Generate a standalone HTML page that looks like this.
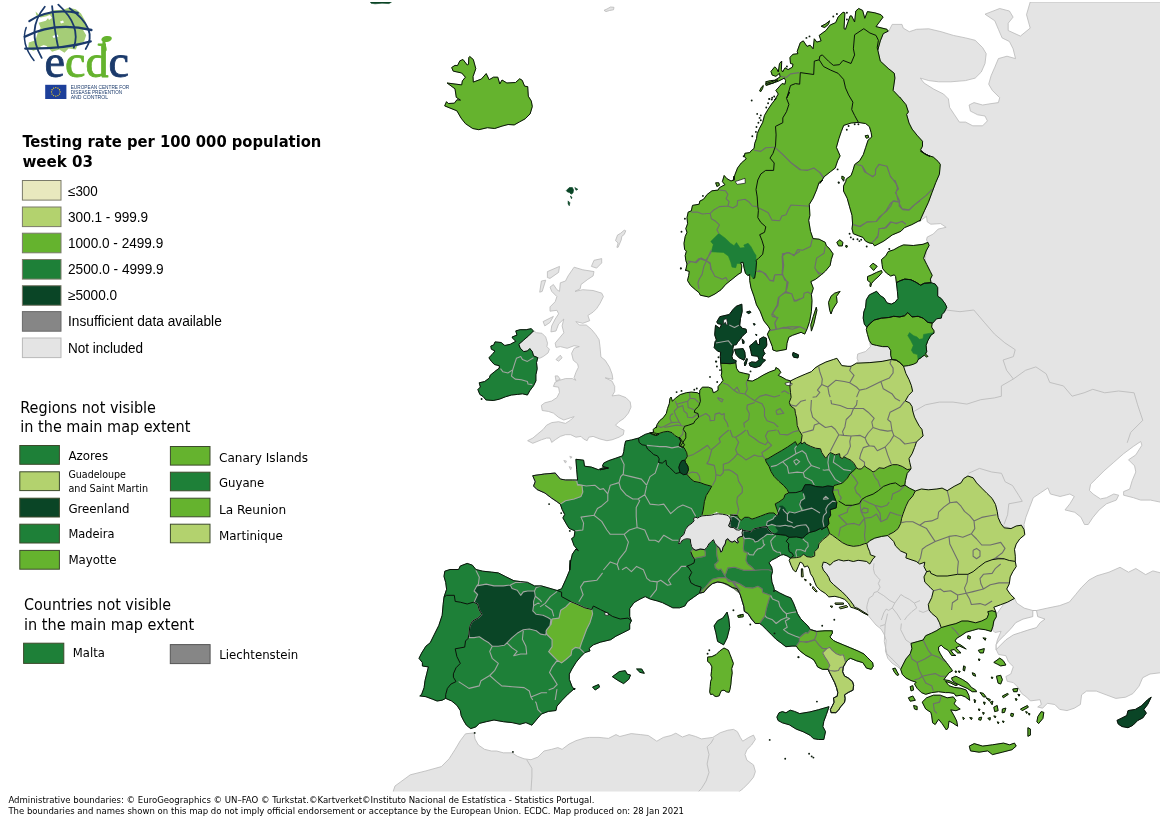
<!DOCTYPE html>
<html lang="en"><head><meta charset="utf-8"><title>Testing rate per 100 000 population, week 03</title>
<style>
html,body{margin:0;padding:0;background:#fff}
body{width:1160px;height:819px;position:relative;overflow:hidden;font-family:"Liberation Sans",sans-serif}
svg text{font-family:"DejaVu Sans Condensed","DejaVu Sans","Liberation Sans",sans-serif}
svg text.a{font-family:"Liberation Sans",sans-serif}
</style></head><body>
<svg width="1160" height="819" viewBox="0 0 1160 819" style="position:absolute;left:0;top:0">
<defs><clipPath id="mapclip"><rect x="366" y="2" width="794" height="789.5"/></clipPath></defs>
<g clip-path="url(#mapclip)" stroke-linejoin="round">
<path fill="#e4e4e4" stroke="#b9b9b9" stroke-width="0.8" d="M869.3,340.5 870.5,346.6 865.6,351.5 857.7,354 857.1,358.2 858.3,361.3 855.9,363.7 870.5,362.5 882.7,361.3 891.9,359.5 890.7,355.2 890.7,350.3 888.2,346.6 882.7,346.6 876.6,345.4 871.7,344.2Z M393.3,791 395,786 410.3,774.8 425.9,770.9 441.4,766.6 449.1,758.8 455.2,749.3 460.3,740.7 465.5,733.8 474.1,732.9 475,739 478.4,745 484.5,749.3 491.4,751 496.6,751 503.4,752.8 512.1,752.8 517.2,756.2 524.1,758.8 531,759.7 537.9,757.1 544,751 551.7,749.3 557.8,747.6 562.1,749.3 569,744.1 575.9,740.7 584.5,738.1 589.5,737.4 599,737.4 608.4,738.4 616,734.6 619.8,736.5 631.2,733.6 640.7,734.6 648.3,735.5 656.8,741.2 663.4,737.4 671,735.5 675.8,733.2 682.4,737 689.1,734.6 695.7,736.5 701.4,738.9 712.8,737.4 720.3,732.7 727.9,730.2 733.6,729.4 737.4,731.7 740.3,737.4 742.7,741.2 748.8,737.4 753.5,735.1 755.4,739.3 751.6,745 746.9,749.7 745,754.5 746.9,760.2 753.5,764.9 755.4,771.6 753.5,777.2 748.8,782.9 743.1,788.6 739.3,791.5 735.5,796.2 393.4,796.2Z M533.5,330.9 536.5,332.7 542,333.3 545.7,337 547.5,343.1 546.9,346.7 549.4,349.2 548.1,352.9 543.3,356.5 539.6,358.3 537.8,357.7 533.5,355.9 532.3,351.6 529.8,348.6 527.4,351 523.7,351.6 520.1,348 518.8,344.3 523.7,340 528.6,335.8Z M574.1,267.2 582.8,269.8 594,271.6 593.1,275.9 587.9,279.3 581,284.5 580.2,288.8 575,291.4 582.8,289.7 593.1,290.5 601.7,293.1 603.4,296.6 600,303.4 596.6,308.6 593.1,312.1 587.9,315.5 589.7,320.7 582.8,323.3 575.9,321.6 579.3,325 586.2,325 591.4,329.3 595.7,334.5 599.1,339.7 600,346.6 600.9,356.9 605.2,360.3 609.5,367.2 612.1,374.1 612.9,379.3 605.2,377.8 612.1,381.2 614.7,386.4 614.7,391.6 612.1,395.9 619,395 625.9,397.6 630.2,401.9 631,407.1 628.4,413.1 624.1,418.3 619,421.7 615.5,425.2 620.7,428.6 624.1,430.3 623.3,434.7 619,437.2 612.1,439.8 606.9,440.7 600,439 593.1,436.4 588.8,437.2 587.1,440.7 583.6,439 581,436.4 575.9,437.2 570.7,434.7 565.5,434.7 560.3,436.4 555.2,439.8 551.7,442.4 550,438.1 546.6,438.1 541.4,439.8 532.8,443.3 527.6,440.7 532.8,438.1 537.9,433.8 543.1,429.5 546.6,425.2 551.7,422.6 558.6,421.7 565.5,423.4 570.7,420 574.1,416.6 569,418.3 563.8,420 558.6,417.4 553.4,413.1 548.3,411.4 542.2,410.5 541.4,405.3 544.8,402.8 551.7,401 556.9,397.6 559.5,392.4 558.6,387.2 553.4,386.4 555.2,382.1 559.5,380.3 565.5,378.6 572.4,378.6 575.9,380.3 574.1,377.6 575.9,372.4 578.4,367.2 577.6,363.8 573.3,360.3 571.6,353.4 574.1,348.3 579.3,346.6 574.1,345.7 567.2,348.3 560.3,346.6 556,347.4 555.2,343.1 559.5,337.9 563.8,332.8 562.1,325.9 563.8,319 558.6,324.1 556,331 550.9,331.9 551.7,325.9 555.2,319 558.6,313.8 556.9,310.3 550,311.2 550,306.9 555.2,301.7 556.9,296.6 551.7,291.4 550,287.1 553.4,284.5 556.9,289.7 559.5,291.4 560.3,282.8 565.5,281 568.1,275.9Z M547.4,271.6 559.5,266.4 558.6,272.4 550,278.4 547.4,277.6Z M541.4,281 545.7,280.2 542.2,291.4 539.7,292.2Z M591.4,266.4 594,260.3 601.7,258.6 601.7,262.9 596.6,268.1Z M543.1,321.6 553.4,316.4 550,322.4 544.8,325.9Z M556,359.5 560.3,355.2 562.1,357.8 558.6,361.2Z M555.2,375.9 557.8,375.9 560.3,379.3 556,381Z M563.8,460.5 566.4,461 565.5,463.1Z M569.8,456.2 572.1,457.1 570.7,458.3Z M569,466.6 571.6,467.4 570.7,469.7Z M1014.5,598.3 1016.9,603.2 1024.2,608.1 1032.8,610.5 1036.5,610.5 1047.4,608.1 1059.7,605.6 1069.4,602 1075.5,594.7 1081.6,587.3 1089,580 1096.8,575.8 1109,572.2 1120,567.3 1128.5,572.2 1135.8,568.5 1145.6,574.6 1152.9,570.9 1162.7,573.4 1170,573 1170,673 1160,672.8 1150,674 1142.7,677.7 1139,686.2 1132.9,693.6 1125.6,697.2 1115.8,698.4 1106.1,694.8 1096.3,691.1 1086.5,691.1 1081.6,694.8 1080.4,704.5 1074.3,708.2 1067,710.6 1059.7,709.4 1054.8,704.5 1047.4,703.3 1042.6,708.2 1037.7,707 1041.3,704.5 1040.1,699.7 1030.4,700.9 1026.7,697.2 1021.8,693.6 1018.1,687.4 1013.3,682.6 1007.2,681.3 1005.9,676.5 1010.8,674 1013.3,666.7 1008.4,661.8 1005.9,655.7 998.6,654.5 996.2,649.6 996.2,644.7 997.4,639.8 1001.1,631.3 994.9,632.5 992.5,630.1 994.9,616.6 1003.5,604.4Z M888.5,31.7 892.2,24.4 902,24.4 903.2,28.1 909.3,31.7 916.6,29.3 928.8,28.8 941.1,31.7 953.3,35.4 965.5,37.9 975.2,40.3 982.6,47.6 986.2,53.7 985,63.5 981.3,72 975.2,78.1 965.5,80.6 950.8,81.8 938.6,81.8 928.8,80.6 920.3,78.1 924,83 933.7,89.1 943.5,94 948.4,98.9 949.6,107.4 954.5,114.8 959.4,122.1 965.5,122.1 972.8,125.8 982.6,125.8 987.4,120.9 985,116 977.7,114.8 970.4,111.1 969.1,105 974,102.6 982.6,105 989.9,103.8 998.4,102.6 999.7,97.7 992.3,90.4 988.7,84.2 991.1,75.7 994.8,67.2 998.4,58.6 1007,56.2 1015.5,58.6 1013.1,48.8 1009.4,41.5 1002.1,37.9 998.4,29.3 994.8,20.8 985,14.2 999.7,8.5 1009.4,11 1013.1,17.1 1008.2,23.2 1008.2,30.5 1020.4,36.1 1030.2,28.1 1026.5,14.7 1030.2,2 1170,2 1170,503 1162.7,502.6 1150.5,500.1 1140.7,500.1 1133.4,497.7 1123.6,495.2 1123.6,491.6 1129.7,489.1 1132.2,480.6 1135.8,472 1134.6,465.9 1128.5,459.8 1135.8,454.9 1141.9,445.2 1140.7,441.5 1133.4,446.4 1123.6,453.7 1113.8,462.3 1104.1,470.8 1096.8,478.1 1090.6,484.2 1089.4,490.4 1093.1,494 1100.4,498.9 1106.5,497.7 1113.8,494 1118.7,495.2 1116.3,500.1 1106.5,503.8 1099.2,509.9 1093.1,517.2 1088.2,524.5 1084.5,524.5 1080.9,517.2 1074.8,512.3 1065,509.9 1069.9,503.8 1074.3,496.5 1069.9,494 1060.1,496.5 1050.4,494 1047.9,487.9 1040.6,492.8 1033.3,497.7 1029.6,507.4 1025.9,517.2 1024,524.5 1024.7,533.1 1000,525 960,520 905,490 900,470 895,440 905,410 900,380 905,350 915,320 920,290 925,260 927.9,242.4 926.5,240 927.2,237.1 933.3,234 938.1,229.1 946.1,227.3 940.6,223.6 930.8,224.2 927.2,221.8 926.5,216.3 919.8,221.2 912,205 912,170 895,130 885,100 878,80 870,60 872,40 880,33Z M867.9,615.2 871,619 876,625 881,629 884,634 886,640 885.4,651 887.8,658.3 892.1,663.2 897,666.3 900.7,669.3 915,660 935,635 945,615 935,590 930,562 905,545 880,532 858,552 835,548 815,565 830,585 845,598 858,608Z M624.2,230.2 625.8,230.8 624.2,234.5 621.8,236.3 621.2,240 618.1,247.3 616.9,247.3 618.1,243 615.5,240.6 617.5,235.1 620.6,233.3Z M604,10.3 607,9 610.5,7 614,7.3 613.5,9.8 609.5,10.5 606,11.6Z"/>
<path fill="#fff" stroke="#b4b4b4" stroke-width="0.8" d="M1032.8,610.5 1036.5,610.5 1037.7,616.6 1045,619.1 1040.1,622.7 1036.5,627.6 1027.9,630.1 1020.6,632.5 1013.3,634.9 1005.9,639.8 999.8,645.9 996.2,649.6 996.2,644.7 998.6,641.1 1004.7,634.9 1010.8,628.8 1015.7,622.7 1023,619.1 1032.8,616.6Z"/>
<path fill="none" stroke="#bcbcbc" stroke-width="0.9" d="M946.2,310 960,311.7 973.8,310 984.1,322.1 994.5,334.1 1004.8,342.8 1015.2,349.7 1013.4,356.6 1003.1,360 1006.6,370.3 1013.4,379 M1013.4,379 1025.5,370.3 1035.9,366.9 1046.2,373.8 1049.7,382.4 1063.4,385.9 1072.1,396.2 1084.1,392.8 1092.8,389.3 1104.8,392.8 1118.6,391 1134.1,392.8 1137.6,404.8 1142.8,420.3 1130.7,432.4 1127.2,442.8 M913.4,411.7 925.5,404.8 939.3,402.1 953.1,402.1 966.9,404.1 980.7,399.7 994.5,397.9 1001.4,396.2 1001.4,385.9 1013.4,379 M968.5,473.3 979.5,468.4 991.7,472 1001.5,473.3 1005.2,481.8 1012.5,485.5 1018.6,495.2 1022.3,501.3 1008.8,503.8 1007.6,514.8 1004,524.5 M874,563.3 873.4,568.8 874.6,573.7 877.7,577.4 880.1,579.8 878.3,583.5 880.1,587.2 877.7,591.4 874,592.6 872.8,595.7 869.1,598.1 867.3,604.2 866.7,607.9 867.9,612.8 M877.7,592 883.8,595.7 889.9,600.6 894.8,603 898.4,598.1 900.9,594.5 904.5,596.9 909.4,599.4 914.3,603 916.8,607.9 911.9,611.6 907,616.5 904.5,620 M894.8,603 892.3,607.9 888.7,610.4 886.2,609.1 883.8,612.8 881.3,620 M892.3,607.9 897.2,614 900.9,620 M914.3,603 920,600.6 M918.8,610.8 923.1,612.4 929.1,610 M901.4,623.5 900.7,629.7 905.9,640 911,643.4 M880,626.2 885.2,624.5 887.5,613.7 M885.2,624.5 884.3,641.7 886.9,653.8 892.1,659 899,665.9 900.7,669.3 M713.7,738.4 710.9,743.1 707.1,746.9 709,754.5 707.1,764 709,772.5 706.1,781 701.4,788.6 698.5,791.5 M526.7,759.7 531.9,768.3 531.9,776.9 531,790.7"/>
<path fill="#1e8038" stroke="#1e8038" stroke-width="0.6" d="M649.8,433 645.2,434.4 638.5,438.1 638.5,438.1 631.7,439.9 625.6,441.1 624.4,446.6 623.8,451.5 622.6,455.8 615.9,458.2 608.5,460.7 603.7,463.1 602.4,466.2 608.5,468 600,469.8 608.3,468.1 603.4,467.6 598.3,469.7 591.4,467.1 584.5,466.2 583.6,460.2 575.9,459.3 576.7,469.7 577.6,480 572.4,480 565.5,480 560.3,479.1 555.2,473.1 544.8,474 532.8,475.7 535.3,481.7 533.6,486 537.1,489.5 544.8,492.9 551.7,498.1 556.9,501.6 560.3,504.1 562.1,509.3 564.7,514.5 562.9,517.9 566.4,524 569,528.3 575,530.9 574.1,536.9 571.6,538.6 574.1,545.5 578.4,550.7 575.9,549 572.4,554.1 570.7,561 569.8,570 570.2,560.3 569.8,570 565.9,579.3 561.6,588.8 557.2,590.5 557.2,590.5 561.6,592.2 561.6,596.6 571,601.7 577.1,604.3 584.8,607.8 591.7,609.5 593.4,606 600.3,609.5 607.2,612.9 612.4,616.4 620.2,619 627.9,618.1 631.4,620.7 631.4,620.7 629.7,616.4 629.7,608.6 634,602.6 640,599.1 645.2,596.6 650.3,599.1 657.2,600.9 662.4,602.6 667.6,605.2 672.8,607.8 679.7,607.8 684.8,606 687.4,601.7 693.4,597.4 699.5,593.1 699.5,593.1 701.2,587.1 695.2,585.3 690.9,582.8 689.1,577.6 691.7,572.4 688.3,567.2 686.6,566.4 690.7,564.7 694.1,562.9 694.6,559.5 692.4,556 690.7,551.7 697,545 690,530 700,520 702,514.9 703.2,510 704.4,501.6 706.2,495.5 709.3,490.6 711.7,486.3 705,484.5 700.1,482.6 694,481.4 690.4,478.4 686.7,474.1 686.7,474.1 688.5,469.8 687.9,466.2 685.5,462.5 684.9,460.1 684.9,460.1 685.5,459.5 687.3,456.4 686.7,452.7 684.2,447.9 681.2,446.6 681.2,446.6 679.4,445.4 681,441.6 679.1,438 674.8,435.5 672,432.6 667.8,431.4 663.5,432 659.8,433.2 655.6,435 649.8,433Z M557.2,590.5 550,588.4 541.4,585.9 534.5,585.9 527.6,582.4 520.7,581.6 513.8,580.7 505.2,576.4 498.3,572.9 491.4,572.1 482.8,571.2 475.9,569.5 472.4,565.2 467.2,563.4 460.3,566 458.6,569.5 450,569.5 444.8,571.2 444,576.4 445.7,582.4 446.6,589.3 444,597.1 443.1,604.8 442.2,615.2 438.8,625.5 434.5,634.1 430.2,642.8 425.9,646.2 421.6,653.1 419,658.3 422.4,662.6 422.4,666 428.4,666.9 426.7,673.8 425,680.7 424.1,687.6 421.6,694.5 419.8,695.9 425.9,696.7 432.8,699.3 437.1,701 442.2,700.2 445.7,698.4 451.7,701 456.9,705.3 460.3,710.5 461.2,715.7 463.8,720.9 466.4,725.2 470.7,728.6 475.9,726.9 479.3,723.4 486.2,721.7 494,720 503.4,721.7 512.1,722.6 519.8,724.3 525.9,722.6 531.9,725.2 536.2,720 541.4,714 548.3,711.4 556,710.5 556.9,706.2 562.1,700.2 568.1,694.1 575,688.1 574.5,690 571.9,686.2 569.3,679.3 569.3,674.1 571.9,669 576.2,662.1 580.5,656.9 584.8,652.6 590,650.9 589.1,648.3 593.4,644.8 600.3,642.2 610.7,639.7 615.9,636.2 622.8,632.8 629.7,629.3 629.7,624.1 631.4,620.7 631.4,620.7 627.9,618.1 620.2,619 612.4,616.4 607.2,612.9 600.3,609.5 593.4,606 591.7,609.5 584.8,607.8 577.1,604.3 571,601.7 561.6,596.6 561.6,592.2 557.2,590.5Z M699.5,593.1 703.8,592.2 708.1,587.1 712.4,583.6 717.6,581.9 722.8,582.8 727.3,584.4 732.2,587.5 737.1,588.7 740.1,594.2 742,600.3 743.8,606.4 744.4,611.3 748.1,613.7 751.7,619.2 755.4,623.5 759.7,623.5 762.1,625.3 766.4,629.6 771.3,634.5 776.2,639.4 781.1,643 785.9,646.7 792,646.1 796.3,646.1 799.4,650.4 805.5,655.2 810.4,657.7 814,660 814,660.1 816.4,664.4 817.6,666.9 822.5,669.3 828,669.3 829.8,673 832.3,677.9 834.7,682.7 836.5,687.6 837.8,692.5 837.2,696.2 833.5,698 834.1,702.3 832.3,705.9 830.4,709.6 831.1,712.6 835.9,712.6 838.4,710.2 840.8,706.5 844.5,702.3 845.1,698.6 844.5,694.9 848.1,692.5 853,690.1 853.6,685.2 852.4,681.5 848.1,677.9 844.5,676 842.6,671.7 843.3,666.9 845.7,662.6 848.1,659.5 850.6,658.3 856.7,660.8 862.8,662.6 866.5,668.1 871.3,669.3 873.2,666.3 872.6,662.6 867.7,657.7 864,654 857.9,651 850.6,647.9 843.3,644.9 835.9,641.8 833.6,640.6 829.9,636.9 832.3,633.3 832.3,630.8 825,630.8 816.5,631.4 810.4,629.6 807.9,625.9 804.2,622.3 800.6,618.6 797.5,613.7 795.7,608.8 793.3,602.7 790.8,597.9 785.9,596 779.8,593 774.3,589.9 773.7,586.9 771.9,582 771.3,575.9 772.5,571.6 772.4,570.5 771.6,567.1 769,562.8 771.6,560.2 776.7,557.6 781,555 783.6,554.6 787.1,555.9 790.5,558 793.5,555.9 792.2,553.3 789.2,551.6 788.4,547.2 788.8,543.8 786.2,541.2 789.2,537.3 789.2,537.3 785.3,535.2 780.2,534.7 774.1,533.9 771.6,532.6 768.1,529.1 767.2,526.6 762.9,527 758.6,527.8 753.4,529.1 750.9,531.7 746.6,530.9 743.1,530.4 735,535 720,538 705,540 695,548 690.7,551.7 692.4,556 694.6,559.5 694.1,562.9 690.7,564.7 686.6,566.4 688.3,567.2 691.7,572.4 689.1,577.6 690.9,582.8 695.2,585.3 701.2,587.1 699.5,593.1Z M789.2,537.3 796.6,536.9 802.6,538.2 805.6,535.2 809.1,532.6 815.5,530.9 820.7,528.3 821.6,529.6 827.1,526.4 828.9,531.1 829.5,533.5 827.7,535.9 822.8,539.6 819,543.8 818.1,548.1 814.7,551.6 814.7,555.9 811.2,557.2 806.9,556.7 803.4,554.1 800.9,556.7 796.6,557.6 790.5,558 793.5,555.9 792.2,553.3 789.2,551.6 788.4,547.2 788.8,543.8 786.2,541.2 789.2,537.3Z M788.7,492.9 785,494.7 783.8,498.4 778.9,502 775.2,503.9 776.5,508.1 777.7,511.2 778.9,514.2 776.5,515.5 774,513 769.1,513 765.5,514.2 760.6,516.1 755.7,517.9 752,519.1 748.4,517.3 744.7,517.3 741.1,520.4 738.6,517.9 737.4,515.5 733.7,515.5 730.1,514.9 730.2,516.2 731,522.2 730.2,525.7 733.6,527.8 737.9,528.7 743.1,530.4 746.6,530.9 750.9,531.7 753.4,529.1 758.6,527.8 762.9,527 767.2,526.6 768.1,529.1 771.6,532.6 774.1,533.9 780.2,534.7 785.3,535.2 789.2,537.3 796.6,536.9 802.6,538.2 805.6,535.2 809.1,532.6 815.5,530.9 820.7,528.3 821.6,529.6 827.1,526.4 828.9,523.7 828.3,518.8 830.7,515.2 830.1,509.7 836.2,507.9 836.8,502.4 836.2,501.7 834.4,496.9 832.6,492 833.3,487.3 832.6,486.5 827.7,485.9 822.8,487.1 815.5,486.5 810.6,484.7 805.1,484.7 802,490.8 795.9,492.6 788.7,492.8Z M801,442.1 797.2,445.3 795.4,441.6 792.9,443.4 787.4,447.1 781.3,450.8 774,455 767.9,458.7 765.5,459.3 766.1,461.7 769.1,466.6 771,471.5 774,476.4 778.9,481.3 783.8,485.6 787.4,489.8 788.7,492.9 795.9,492.6 802,490.8 805.1,484.7 810.6,484.7 815.5,486.5 822.8,487.1 827.7,485.9 832.6,486.5 833.3,487.3 834,485.5 838.8,484.2 842.5,483 847.4,478.1 849.8,473.9 852.3,472 856.5,467.8 854.1,463.5 851.1,460.4 847.4,458.6 843.7,456.8 842.5,458.6 840.1,457.4 839.5,453.7 835.2,454.9 830.3,452.5 829.1,453.7 826.6,457.4 825.4,458 821.7,452.5 820.5,448.8 815.6,448.2 810.8,446.4 805.9,444 804.7,442.1 801.6,444 801,442.1Z"/>
<path fill="#65b32e" stroke="#65b32e" stroke-width="0.6" d="M532.8,475.7 544.8,474 555.2,473.1 560.3,479.1 565.5,480 572.4,480 576.7,480.9 577.6,485.2 581.9,485.2 582.8,492.1 581,496.4 574.1,499 565.5,500.7 560.3,504.1 556.9,501.6 551.7,498.1 544.8,492.9 537.1,489.5 533.6,486 535.3,481.7Z M571,601.7 577.1,604.3 584.8,607.8 591.7,609.5 592.6,613.8 590,622.4 586.6,629.3 584,636.2 581.4,643.1 579.7,648.3 575.3,647.4 571.9,650 571,655.2 565.9,659.5 561.6,662.9 557.2,660.3 552.9,656 548.6,651.7 552.1,646.6 552.1,639.7 546.9,634.5 546,631 551.2,624.1 552.1,619 559,618.1 560.7,610.3 565.9,606.9Z M690.7,551.7 693.3,549.1 695.9,550.4 700.2,549.1 704.5,549.6 705.3,552.6 705.3,556 701.9,556.9 696.7,557.8 694.1,558.6 692.4,556Z M717,546.1 719.6,548.3 720.9,552.2 722.2,550.9 723,547.4 725.2,544 726,540.1 727.8,538.8 729.5,540.9 732.1,542.2 734.7,540.9 737.2,543.1 738.5,542.2 737.2,539.7 738.1,537.9 740.7,536.6 742.8,536.2 742.8,536.2 744.1,539.7 743.7,544 743.3,548.3 744.1,551.7 747.6,552.6 746.7,556 745.9,560.3 747.6,563.8 751.9,567.2 754.5,570 744.4,570.4 734.7,567.3 727.9,567.9 724.9,575.9 721,569 718.3,570 715.3,567.7 714.8,564.2 716.6,562.9 718.3,560.8 717,556 716.6,551.7 717,546.1Z M699.5,593.1 705.5,587.1 709.8,581.9 712.4,579.3 719.3,577.6 725.3,577.6 729.7,580.2 734.8,583.6 740,590.5 738.3,592.2 733.1,587.9 727.9,585.3 722.8,582.8 717.6,581.9 712.4,583.6 708.1,587.1 703.8,592.2Z M733.4,582 739.5,583.8 745.6,587.5 753,588.1 757.9,586.3 762.1,588.7 762.7,592.4 767.6,594.2 770.7,595.4 768.8,600.3 767,606.4 765.8,611.3 765.2,615.6 762.1,619.8 759.7,623.5 755.4,623.5 751.7,619.2 748.1,613.7 744.4,611.3 743.8,606.4 742,600.3 740.1,594.2 737.1,588.7 733.4,583.2Z M796.3,646.1 799.4,641.8 799.4,637.5 803,634.5 805.5,632.6 807.9,633.3 810.4,629.6 816.5,631.4 825,630.8 832.3,630.8 832.3,633.3 829.9,636.9 833.6,640.6 835.9,641.8 843.3,644.9 850.6,647.9 857.9,651 864,654 867.7,657.7 872.6,662.6 873.2,666.3 871.3,669.3 866.5,668.1 862.8,662.6 856.7,660.8 850.6,658.3 848.1,659.5 845.7,662.6 843.3,666.9 842.6,671.7 844.5,676 848.1,677.9 852.4,681.5 853.6,685.2 853,690.1 848.1,692.5 844.5,694.9 845.1,698.6 844.5,702.3 840.8,706.5 838.4,710.2 835.9,712.6 831.1,712.6 830.4,709.6 832.3,705.9 834.1,702.3 833.5,698 837.2,696.2 837.8,692.5 836.5,687.6 834.7,682.7 832.3,677.9 829.8,673 828,669.3 822.5,669.3 817.6,666.9 816.4,664.4 814,660.1 814,660 810.4,657.7 805.5,655.2 799.4,650.4 796.3,646.1Z M720.7,363.2 721.2,367.1 721.8,372 721.2,375.6 723,380.5 720.6,383.6 718.1,386.6 718.1,390.3 715.1,392.1 713.3,392.7 712,388.5 708.4,387.2 702.3,387.2 699.8,390.3 699.6,394.2 697.4,392.7 691.3,392.1 686.4,392.7 680.3,394.6 675.4,398.2 672.4,401.3 671.1,397 669.9,398.8 669.3,403.7 667.5,408.6 666.3,413.5 663.2,417.8 659.5,420.8 657.1,424.5 655.9,428.1 656.8,426.5 653.1,429.5 653.7,432 649.8,433 655.6,435 659.8,433.2 663.5,432 667.8,431.4 672,432.6 674.8,435.5 679.1,438 681,441.6 679.4,445.4 681.2,446.6 684.2,447.9 686.7,452.7 687.3,456.4 685.5,459.5 684.9,460.1 685.5,462.5 687.9,466.2 688.5,469.8 686.7,474.1 690.4,478.4 694,481.4 700.1,482.6 705,484.5 711.7,486.3 709.3,490.6 706.2,495.5 704.4,501.6 703.2,510 702,514.9 706.9,514.9 711.7,514.2 716.6,511.8 720.3,513.6 726.4,514.2 730.1,514.9 733.7,515.5 737.4,515.5 738.6,517.9 741.1,520.4 744.7,517.3 748.4,517.3 752,519.1 755.7,517.9 760.6,516.1 765.5,514.2 769.1,513 774,513 776.5,515.5 778.9,514.2 777.7,511.2 776.5,508.1 775.2,503.9 778.9,502 783.8,498.4 785,494.7 788.7,492.9 787.4,489.8 783.8,485.6 778.9,481.3 774,476.4 771,471.5 769.1,466.6 766.1,461.7 765.5,459.3 767.9,458.7 774,455 781.3,450.8 787.4,447.1 792.9,443.4 795.4,441.6 797.2,445.3 801,442.1 801.6,439.1 802.1,435.2 799.1,430.4 797.2,425.5 796.6,418.1 795.4,413.3 794.8,409 790.5,405.9 789.3,402.3 791.1,397.4 790.5,392.5 789.9,386.4 790.5,380.9 786.3,379.7 782,377.2 778.3,375.4 780.8,372.4 778.9,369.3 775.9,367.5 775.3,369.9 772.2,371.1 769.4,372 763.3,375 757.2,378.7 752.3,381.1 747.4,380.5 748.7,378.1 749.3,374.4 743.8,373.2 738.9,372 736.5,368.3 735.8,362.8 731,359 724,359.5Z M856.5,467.8 858.4,469 861.4,469 864.5,465.9 866.9,467.8 870,469.6 873,472 875.5,470.8 879.1,467.8 884,468.4 887.7,466.5 892.6,464.7 897.4,464.7 902.3,466.5 907.2,469.6 910.9,469 907.2,473.3 905.4,480.6 904.8,485.1 909.3,488.1 915.3,491 912.8,495.9 908.4,501 905.9,506.2 903.3,513.1 901.6,518.3 900.7,523.4 898.1,528.6 893.8,532.1 888.6,534.7 887.8,535.5 881.7,536.4 874.8,538.1 869.7,540.7 867.1,543.3 864.2,543.8 859.4,545.6 853.3,546.3 847.2,545 842.3,542.6 837.4,538.9 832.5,535.3 829.5,533.4 828.9,531.1 827.1,526.4 828.9,523.7 828.3,518.8 830.7,515.2 830.1,509.7 836.2,507.9 836.8,502.4 836.2,501.7 834.4,496.9 832.6,492 833.3,487.3 834,485.5 838.8,484.2 842.5,483 847.4,478.1 849.8,473.9 852.3,472 856.5,467.8Z"/>
<path fill="#b3d26e" stroke="#b3d26e" stroke-width="0.6" d="M822.5,652.8 826.8,648.5 829.8,647.3 832.3,650.4 835.9,653.4 840.2,655.3 843.3,654.7 844.5,658.3 845.7,662.6 843.3,666.9 842.6,671.7 844.5,676 848.1,677.9 852.4,681.5 853.6,685.2 853,690.1 848.1,692.5 844.5,694.9 845.1,698.6 844.5,702.3 840.8,706.5 838.4,710.2 835.9,712.6 831.1,712.6 830.4,709.6 832.3,705.9 834.1,702.3 833.5,698 837.2,696.2 837.8,692.5 836.5,687.6 834.7,682.7 832.3,677.9 829.8,673 828,669.3 829.8,665.6 827.4,660.8 824.9,657.1Z M790.5,380.9 796.6,377.9 805.2,374.2 811.3,371.7 814.9,368.1 818.6,365.6 825.9,362 833.3,359.5 836.9,358.3 839.4,362 841.8,365.6 847.9,366.3 851,366.3 856.5,363.2 869.9,362.6 882.1,361.4 891.3,359.5 896.2,360.1 899.8,362.5 903.5,366.2 905.9,373.5 909,379.6 911.4,385.7 912.6,391.2 908.4,395.5 905.3,401 909.6,402.8 912,406.5 912.6,410 912.7,411 914.5,417.1 917,422 919.4,426.3 921.9,429.3 923.1,436 919.4,439.1 916.4,442.1 914.5,447.6 912.1,453.7 909,458.6 909.7,462.3 910.9,467.2 910.9,469 907.2,469.6 902.3,466.5 897.4,464.7 892.6,464.7 887.7,466.5 884,468.4 879.1,467.8 875.5,470.8 873,472 870,469.6 866.9,467.8 864.5,465.9 861.4,469 858.4,469 856.5,467.8 854.1,463.5 851.1,460.4 847.4,458.6 843.7,456.8 842.5,458.6 840.1,457.4 839.5,453.7 835.2,454.9 830.3,452.5 829.1,453.7 826.6,457.4 825.4,458 821.7,452.5 820.5,448.8 815.6,448.2 810.8,446.4 805.9,444 804.7,442.1 801.6,444 801,442.1 801.6,439.1 802.1,435.2 799.1,430.4 797.2,425.5 796.6,418.1 795.4,413.3 794.8,409 790.5,405.9 789.3,402.3 791.1,397.4 790.5,392.5 789.9,386.4 790.5,380.9Z M790.5,558 795.9,557.2 800.8,556.6 803.8,554.8 806.3,556.6 809.9,557.2 813.6,556.6 814.8,551.7 817.2,549.3 819.7,547.5 819.1,543.2 822.7,539.5 826.4,536.5 829.5,533.4 832.5,535.3 837.4,538.9 842.3,542.6 847.2,545 853.3,546.3 859.4,545.6 864.2,543.8 866.7,543.2 867.9,547.5 869.7,551.7 870.4,554.8 875.2,556.6 872.8,559.1 871,562.1 869.7,564 866.7,561.5 863,560.9 858.1,560.3 853.3,561.5 848.4,560.3 843.5,560.9 838.6,559.7 833.7,561.5 830.1,565.2 826.4,562.7 823.3,562.1 822.1,566.4 823.3,570.1 826.4,573.7 828.8,577.4 830.1,581.1 833.7,584.7 838,588.4 842.3,592 846.5,596.3 850.2,600.6 853.3,604.9 854.5,607.3 858.1,608.5 863,611.6 867.9,614.6 867.9,615.2 863,612.8 858.1,609.7 853.3,607.9 850.8,607.3 848.4,603 844.7,599.4 839.8,597.5 834.9,596.3 828.8,596.9 825.2,593.3 820.3,590.2 816.6,586.5 814.8,582.3 813,577.4 810.5,573.7 809.3,568.8 807.5,565.8 806.3,566.4 804.4,567 802.6,563.3 800.1,562.1 798.3,566.4 795.9,571.9 793.4,570.1 791,565.2 789.2,560.3 790.5,558Z M915.3,491 921.4,489 928.3,489.8 936.9,489 942.1,488.1 947.2,490.7 954.1,486.4 961,482.9 963.6,478.6 967.9,476 973.1,477.8 976.6,482.9 981.7,488.1 986.9,493.3 992.1,498.4 995.5,504.5 997.2,511.4 998.1,517.4 1000.7,523.4 1004.1,527.8 1011,528.6 1016.2,526 1021.4,525.2 1024,529.5 1024.8,534.7 1019.7,539 1016.2,544.1 1014.5,549.3 1015.3,556.2 1015.3,561.4 1016.2,566.6 1012.8,571.7 1010.2,576.9 1009.3,583.8 1006.7,589 1010.2,594.1 1014.5,598.4 1007.6,602.1 1000.7,604.7 993.8,607.2 995.9,612.1 992.1,610.7 987.8,611.6 988.6,614.1 986.9,618.4 981.7,621 975.7,622.8 967.9,621 961.9,621 955.9,623.6 949,625.3 941.2,627.6 939.5,622.8 936.9,617.6 931.7,613.3 929.1,610 928.3,604.5 931.7,597.6 933.4,590.7 930,587.2 924.8,582.1 924,576.9 926.6,571.7 924,566.6 924.8,562.2 919.7,564 916.2,561.4 911,559.7 905.9,557.9 906.7,553.6 900.7,551 895.5,545.9 893.8,541.6 887.8,535.5 888.6,534.7 893.8,532.1 898.1,528.6 900.7,523.4 901.6,518.3 903.3,513.1 905.9,506.2 908.4,501 912.8,495.9 915.3,491Z"/>
<path fill="#0a4526" stroke="#0a4526" stroke-width="0.6" d="M681.8,460.7 684.9,460.1 685.5,462.5 687.9,466.2 688.5,469.8 686.7,474.1 683.6,474.7 680,472.5 678.8,467.4 680,463.7Z M474.1,602.2 477.6,594.5 474.1,591 476.7,585.9 486.2,584.1 494,585.9 503.4,585.9 510.3,585 512.1,588.4 517.2,590.2 520.7,595.3 523.3,591.9 527.6,591 534.5,591 535.3,596.2 533.6,601.4 533.6,605.7 532.8,610.9 536.2,614.3 543.1,615.2 548.3,617.8 550.9,619.5 550,625.5 546.6,629.8 545.7,635 540.5,634.1 536.2,630.7 529.3,629 523.3,629.8 517.2,633.3 512.1,637.6 506.9,642.8 504.3,645.3 498.3,646.2 492.2,646.2 488.8,642.8 484.5,640.2 479.3,636.7 474.1,637.6 469,637.6 469,634.1 469.8,626.4 472.4,621.2 478.4,617.8 481.9,614.3 479.3,610 477.6,604Z M743.1,530.4 746.6,530.9 750.9,531.7 753.4,529.1 758.6,527.8 762.9,527 767.2,526.6 768.1,529.1 771.6,532.6 774.1,533.9 771.6,534.7 767.2,534.3 763.8,536.9 761.2,538.6 757.8,541.2 755.2,542.1 753.4,539.5 749.1,538.2 744.8,538.6 742.7,535.2Z M730.8,516.8 733.8,516.4 737.2,518.5 739.8,521.1 739,522.8 738.1,526.7 736.4,529.7 733.8,527.6 730.3,527.2 728.6,525.9 729.9,522.8 730.8,519.8Z M802,490.8 805.1,484.7 810.6,484.7 815.5,486.5 822.8,487.1 827.7,485.9 832.6,486.5 833.3,487.3 832.6,492 834.4,496.9 836.2,501.7 836.8,502.4 836.2,507.9 830.1,509.7 830.7,515.2 828.3,518.8 828.9,523.7 827.1,526.4 821.6,529.6 820.7,528.3 815.5,530.9 809.1,532.6 805.6,535.2 802.6,538.2 796.6,536.9 789.2,537.3 785.3,535.2 780.2,534.7 774.1,533.9 775.9,533.4 778.4,530.9 775.9,527.4 775.9,525.7 771.6,524.4 768.1,525.7 766.4,525.3 767.2,521.8 773.3,518.8 774.1,517.1 777.6,514.5 778.9,510.2 780.2,507.6 779.5,506 782.5,506 784.9,507.9 786.8,512.1 788.6,515.2 789.8,511.5 793.5,513.3 798.4,512.1 803.9,509.7 803.3,507.9 799.6,504.8 800.2,501.1 805.7,499.3 805.7,496.3 803.3,493.8 802,490.8Z"/>
<path fill="#e4e4e4" stroke="#e4e4e4" stroke-width="0.6" d="M701.9,515.9 706.2,515.5 711.4,515.1 714.8,514.2 718.3,513.8 722.6,514.2 726.9,515.1 729.5,516.8 730.8,519.8 729.9,522.8 728.6,525.9 730.3,527.2 733.8,527.6 736.4,529.7 739,530.2 741.6,528.9 742.8,529.7 742,532.8 742.8,536.2 740.7,536.6 738.1,537.9 737.2,539.7 738.5,542.2 737.2,543.1 734.7,540.9 732.1,542.2 729.5,540.9 727.8,538.8 726,540.1 725.2,544 723,547.4 722.2,550.9 720.9,552.2 719.6,548.3 717,545.7 714.8,543.1 713.5,539.7 711.4,541.4 708.8,544 707.1,547.4 704.5,549.6 700.2,549.1 695.9,550.4 693.3,549.1 691.6,546.6 690.7,543.1 690.3,539.2 687.2,538.8 684.7,539.2 681.6,540.9 680.8,543.1 678.6,544 679.5,540.5 680.3,537.5 683.8,534.5 685.5,529.3 688.1,525.9 692.4,522.8 694.1,520.7 693.3,518.5 695.9,517.2 697.6,518.1 699.7,516.8Z"/>
<path fill="#868686" stroke="#868686" stroke-width="0.6" d="M729,524 730.4,524 730.4,526 729,526Z"/>
<path fill="#65b32e" stroke="#65b32e" stroke-width="0.6" d="M469.7,56.5 473.3,59.5 475.8,68.7 473,76.6 473.3,82.1 481.3,79.1 486.2,73.6 489.2,79.7 493.5,77.2 497.8,77.2 499.8,84 502,80 506.9,83 515.5,82.5 519.7,78.8 522.2,80.3 524.6,86.2 527.7,86.6 528.3,96.2 531.3,101.1 532.3,106.5 530.1,113.9 525.2,118.8 519.7,121.8 514.2,124.9 508.1,124.5 502,126.1 494.7,128.5 487.4,127.7 478.8,129.7 472.7,128.5 465.4,123.6 461.1,118.1 456.9,110.8 444.7,105.9 446.5,101.7 448.3,103.5 454.4,103.2 456.9,99.8 460.5,100.1 456.3,97.4 455,88.8 447.1,83 461.7,84.9 462.4,80.9 465.4,77.2 461.7,73 453.2,71.1 451.7,67.5 455,65.4 457.5,65.6 459.9,60.8 463,59.5 467.2,65 468.5,64.4 468.8,57.7Z M816.3,307.2 816.9,310.3 813.9,323.7 811.4,331.1 810.8,324.9 813.3,316.4Z M840.1,291.4 836.5,296.3 837.1,302.4 832.8,309.1 831,314 829.7,310.3 828.5,302.4 831,296.3 834.6,293.2Z M836.8,242.3 839.8,239.8 842.9,242.3 842.3,245.9 838.6,245.9Z M845.9,245.3 847.4,245.9 846.9,247.4 845.7,246.9Z"/>
<path fill="#0a4526" stroke="#0a4526" stroke-width="0.6" d="M793.1,352.4 798.6,354.9 798,357.9 793.7,357.3 792.5,354.9Z"/>
<path fill="#65b32e" stroke="#65b32e" stroke-width="0.6" d="M888.2,31.1 887,29.3 876,26.6 883.1,17.1 880.9,14.7 874.8,12.8 867.4,11.6 864.8,18.3 862.6,10.4 858.7,8.5 855.8,11 854.6,22 851.6,15.9 850.1,15.9 845.5,29.3 844,28.7 844.9,12.8 843,12.2 838.1,17.1 835.7,22.6 830.2,25 825.9,30.5 819.2,35.4 821.1,40.9 816.8,42.1 814.3,38.8 813.1,48.8 810.1,45.2 807,46.4 803.3,40.9 800.3,42.7 797.2,51.3 797.9,53.7 793,54.3 789.9,57.4 790.5,63.5 793,64.1 792.4,67.2 788.1,69.6 785,67.8 782.6,72 781.4,69.6 781.7,61.1 779.5,63.5 778.3,72 776.5,68.4 774.7,66.9 771,71.4 772.2,75.1 775.9,76.3 779.5,73.3 780.1,76.9 773.4,81.2 765.5,83.6 766.1,85.5 778.3,81.2 784.4,78.1 785.6,80.6 785,84.2 782,83.6 775.9,90.4 778.3,94 774.7,100 776.1,98.3 771.8,103.8 768.1,109.3 764.5,115.4 762.6,122.7 759.6,128.2 757.2,133.7 756.5,138.6 754.7,143.5 754.1,148.4 751.1,150.8 749.8,152.6 744.9,153.3 744.3,156.3 746.2,158.8 741.3,163 737.6,167.9 735.2,174 733.3,180 734,176.1 734.6,179.8 731,181 726.7,178.5 724.2,175.5 722.4,181.6 724.9,184.7 719.4,187.7 718.1,190.1 712,190.8 707.2,194.4 703.5,199.3 699.8,201.1 699.2,204.2 692.5,205.4 691.3,210.9 688.2,212.1 687,217.6 687.6,223.7 685.8,228.6 687,232.3 685.2,236.5 684,243.3 684.6,249.4 686.4,251.2 685.2,255.5 685.8,260.4 687,264 685.8,270 685,270.1 689.3,271.4 688.7,275.6 687.5,280.5 690.5,285.4 695.4,289.7 699.1,292.7 700.3,295.2 708.8,297 714.9,294 721.1,289.7 725.9,284.2 732,279.3 738.1,274.4 741.2,272.6 741.8,265.9 740.6,262.8 743,262.2 744.2,268.3 745.5,273.2 747.9,275.6 749.7,274.4 749.7,280.5 751,287.9 754,296.4 756.5,304.9 760.1,311.1 763.8,320.8 768.7,326.9 769.9,329.4 767.4,334.2 769.9,340.4 772.3,346.5 772.9,350 776.6,351.2 786.4,349.4 787,343.3 788.8,337.2 792.5,335.3 801.1,332.3 804.7,334.1 807.2,328.6 809.6,321.3 811.4,311.5 812,300.5 811.4,294.4 813.3,288.3 810.8,281.6 815.7,279.2 821.8,274.3 825.5,271 830.1,265.5 831.3,259.4 833.1,253.9 828.8,247.8 826.4,245.9 825.2,242.3 819.1,239.2 813,238.6 810.5,231.3 808.7,220.3 809.9,215.4 809.3,204.4 813,198.3 816.6,189.8 819.1,182.4 822.7,180 819.9,183.4 824.2,176.7 830.3,171.8 835.2,168.1 837.6,160.8 840.1,155.9 836.4,147.4 838.8,138.8 841.3,131.5 843.7,125.4 851.1,123 858.4,122.4 865.7,123.6 869.4,126.6 871.2,132.7 871.8,137 868.1,140.1 865.7,147.4 863.3,154.7 859.6,160.8 854.7,164.5 852.9,170.6 851.1,175.5 846.2,179.1 845.9,181.2 843.5,186.1 843.5,191 847.2,198.3 849.6,206.9 852,215.4 852.6,224 852,228.8 853.3,233.7 858.1,235.6 863,237.4 865.5,241.1 869.1,242.9 872.8,243.5 874.6,245.9 883.8,241.1 892.3,234.9 900.9,231.3 904.5,227.6 911.9,224.6 920,220.3 919.8,221.2 921.1,218.1 924.7,210.2 928.4,202.3 932,192.5 935.7,182.7 939.4,174.2 940.3,164.4 938.1,161.4 933.3,157.1 925.9,154.7 920.4,151 930,156.5 924.3,153.5 920.6,149.8 922.5,146.2 922.5,141.3 917,135.2 912.1,129.1 909,123 906.6,114.4 908.4,112 906,104.7 899.9,97.3 900,97.7 893.1,90.4 894.9,78.1 894.3,73.3 888.2,68.4 880.3,61.1 877.8,50.1 880.3,40.9 883.3,33.6Z"/>
<path fill="#0a4526" stroke="#0a4526" stroke-width="0.6" d="M741.8,304.2 742.2,311.5 740.5,318.4 739.7,325.3 742.2,328.3 746.1,329.2 746.6,332.2 744,334.8 742.2,336.1 740.5,339.1 737.9,341.7 736.2,344.7 733.6,345.1 732.8,348.6 733.2,352 731.9,356.3 732.8,359.4 736.2,360.7 735.8,362.8 730.2,363.7 720.7,363.2 720.3,356.3 720.7,352 717.7,351.2 714.2,347.7 715.1,341.7 716.4,340 714.7,334.8 715.5,325.3 719.8,328.3 721.6,324.4 717.7,323.6 716.8,321.9 719.8,316.7 729.3,314.5 732.8,309.8 736.2,306.3Z M734.5,349.4 743.1,348.6 744.8,352 745.3,357.2 744,360.2 738.8,357.6 736.2,354.6Z M756,340.4 757.3,344.3 759.5,344.7 759.5,339.1 763.4,336.9 766.4,338.2 766.8,345.1 765.5,347.7 763.4,349.4 763.8,352 765.1,353.3 762.9,356.3 762.1,358.5 765.5,360.2 762.1,363.2 760.3,366 755.2,367.6 750,366 749.1,363.2 751.7,361.9 756,362.4 759.1,359.8 757.8,356.3 751.7,355.5 750.9,351.2 749.6,346 753.4,343Z M746.6,358.5 747.4,358.9 746.1,364.1 744.8,366 744.4,363.2Z M746.6,311.9 750,311.1 750.9,312.4 748.3,313.7Z M753.4,323.6 755.2,324 754.3,325.3Z M755.6,334.4 756.9,334.8 756.5,335.8Z M742.2,339.1 744,340.8 744,343.4 742.7,343.4Z"/>
<path fill="#65b32e" stroke="#65b32e" stroke-width="0.6" d="M927.9,242.4 929.1,245.5 926.1,251 923.6,258.3 926.7,264.4 930.4,271.7 932.2,275.4 930.4,279.1 931,282.7 924.2,283.3 920.6,285.2 915.7,282.1 910.8,279.7 904.7,279.1 899.8,280.9 896.4,282.7 895.6,276.6 894.3,274.8 890.7,276 886.4,273 882.7,268.7 882.1,264.4 881.5,259.5 885.8,255.9 888.2,251.6 893.7,249.8 899.2,246.7 903.5,244.9 913.3,245.5 923,244.3Z"/>
<path fill="#1e8038" stroke="#1e8038" stroke-width="0.6" d="M931,282.7 935.2,284 937.7,287.6 937.7,296.2 941.3,298.6 945,303.5 946.8,307.2 944.4,312 942,314.5 941.3,318.1 936.5,318.8 932.8,323 932.2,323 927.9,322.4 923,318.1 918.1,316.3 912,316.9 907.8,312.6 904.7,315.7 899.8,316.9 893.7,316.3 888.8,317.5 881.5,318.1 874.2,320 869.3,324.2 866.9,327.3 864.4,324.2 863.2,318.1 863.8,312 865.6,307.2 866.3,299.8 869.3,294.9 876.6,291.3 880.3,295.6 884,298 887,302.9 891.3,304.1 894.9,302.3 898,298.6 897.4,291.3 896.4,282.7 896.4,282.7 899.8,280.9 904.7,279.1 910.8,279.7 915.7,282.1 920.6,285.2 924.2,283.3 931,282.7Z"/>
<path fill="#65b32e" stroke="#65b32e" stroke-width="0.6" d="M866.9,327.3 869.3,324.2 874.2,320 881.5,318.1 888.8,317.5 893.7,316.3 899.8,316.9 904.7,315.7 907.8,312.6 912,316.9 918.1,316.3 923,318.1 927.9,322.4 932.2,323 931.6,327.1 934,330.8 934,333.2 931,335 927.9,340.5 926.1,345.4 926.7,351.5 925.5,354 927.9,356.4 926.7,357 924.2,355.2 921.2,357.6 918.1,359.5 916.9,362.5 913.3,364.3 908.4,365.6 903.5,366.2 899.8,362.5 896.2,360.1 891.9,359.5 890.7,355.2 890.7,350.3 888.2,346.6 882.7,346.6 876.6,345.4 871.7,344.2 869.3,340.5 867.5,334.4 866.3,329.5Z M873,263.2 877.2,266.3 873.6,270.5 869.9,266.3Z M881.5,270.5 882.1,272.4 879.1,276 874.2,280.3 871.7,283.3 870.5,287 869.9,285.2 870.5,282.7 867.5,280.3 867.5,276.6 871.7,274.8 876.6,272.4Z"/>
<path fill="#1e8038" stroke="#1e8038" stroke-width="0.6" d="M727.1,612.1 728.8,619 729.7,627.6 727.1,637.9 723.6,644.8 717.6,641.4 715.9,632.8 714.1,625.9 717.6,620.7 722.8,618.1Z M612.4,676.7 619.3,671.6 625.3,670.7 627.1,674.1 630.5,675 628.8,679.3 623.6,683.6 617.6,680.2Z M636.6,669 641.7,669 644.3,673.3 640,672.4Z M592.6,687.1 598.6,684.5 599.5,687.1 595.2,690Z M531.1,328.7 533.5,330.9 528.6,335.8 523.7,340 518.8,344.3 520.1,348 523.7,351.6 527.4,351 529.8,348.6 532.3,351.6 533.5,355.9 537.8,357.7 536.5,362.6 537.2,368.7 535.9,374.8 535.9,380.9 533.5,385.8 529.8,390.7 527.4,395 522.5,393.8 517.6,394.4 511.5,395 505.4,396.8 499.3,399.2 493.2,400.5 485.9,399.9 483.4,396.8 479.8,394.4 477.9,389.5 480.4,387 479.2,382.8 484.7,381.5 489.5,377.9 490.1,375.4 494.4,371.8 499.3,368.1 499.3,365.7 494.4,364.5 491.4,361.4 488.9,357.7 492,354.7 495,351 491.4,349.2 490.8,346.1 493.8,344.9 495,341.9 501.1,342.5 504.8,345.5 510.3,344.3 515.8,341.3 512.7,338.2 512.1,337 517,335.1 515.8,330.9 520.1,329.7 526.2,329.7Z"/>
<path fill="#65b32e" stroke="#65b32e" stroke-width="0.6" d="M737.7,615.6 743.2,614.3 743.2,616.8 738.3,617.4Z"/>
<path fill="#1e8038" stroke="#1e8038" stroke-width="0.6" d="M829,706.7 826.4,714.5 823.8,721.4 822.9,726.6 825.5,731.7 823.8,739.5 818.6,739.5 813.4,738.6 810,735.2 803.1,731.7 796.2,729.1 789.3,724.8 782.4,722.8 778.1,720.5 776.9,717.1 779,712.8 782.4,711.6 785.9,712.8 790.2,710.2 794.5,711.4 799.7,713.6 810,711.9 818.6,709.7Z"/>
<path fill="#65b32e" stroke="#65b32e" stroke-width="0.6" d="M892.7,668.7 895.2,668.1 897,671.7 898.8,674.8 897,675.4 894.5,672.4Z"/>
<path fill="#b3d26e" stroke="#b3d26e" stroke-width="0.6" d="M801.4,568.8 802.6,568.8 803.2,576.8 801.4,576.8Z M804.4,579.2 806.3,579.8 805.6,581.1Z M813,586.5 817.2,591.4 816,592 812.4,588.4Z M834.9,603 843.5,603 843.5,604.2 835.6,604.5Z M839.2,607.3 846.5,605.5 847.8,606.9 840.4,608.9Z M830.1,606.1 832.5,606.1 831.9,607.7Z M809.9,583.5 811.1,584.1 810.5,585.9Z"/>
<path fill="#65b32e" stroke="#65b32e" stroke-width="0.6" d="M900.7,669.3 903.3,664.1 905.9,659 910.2,653.8 911.9,648.6 911,643.4 917.1,641.7 923.1,640 925.7,635.7 931.7,633.1 936.9,630.5 941.2,627.6 941.2,627.6 949,625.3 955.9,623.6 961.9,621 967.9,621 975.7,622.8 981.7,621 986.9,618.4 988.6,614.1 987.8,611.6 992.1,610.7 995.9,612.1 995.9,612.1 996.4,616.7 993.8,621 992.9,626.2 991.2,631.4 991.2,631.4 985.2,629.7 978.3,628.8 972.2,630.5 966.2,632.2 961,635.7 956.7,638.3 955,640.9 957.6,643.4 961,645.2 964.5,647.8 966.2,649 959.3,646 955.9,647.8 958.4,650.3 961,652.9 957.6,652.9 954.1,649.5 950.7,650.3 954.1,654.7 955.9,655.5 951.6,655.5 948.1,650.3 943.8,647.8 941.2,645.2 938.6,646.9 938.6,650.3 940.3,653.8 942.9,658.1 946.4,662.4 949,665.9 951.6,669.3 952.4,671 949,672.8 946.4,676.2 943.8,679.7 949,680.5 954.1,683.1 957.6,684.8 955.9,685.7 950.7,683.1 945.5,681.4 949,685.7 954.1,687.4 961,688.3 966.2,690 968.8,695.2 969.7,700.3 965.3,696.9 961,695.2 955.9,696 954.1,693.4 949,692.6 945.5,692.6 938.6,691.7 931.7,692.6 925.7,694.3 921.4,692.6 917.1,688.3 914.5,684 916.2,682.2 911,680.5 905.9,677.9 902.4,674.5Z M922.2,702.1 926.6,697.8 933.4,695.2 940.3,695.2 947.2,697.8 953.3,696.9 955.9,700.3 954.1,703.8 957.6,707.2 960.2,709 955.9,710.7 950.7,709.8 954.1,715.9 956.7,721 957.6,726.2 952.4,722.8 949,721 948.1,727.9 946.4,730 942.1,723.6 938.6,719.3 935.2,724.5 932.6,722.8 931.7,715.9 930.9,712.4 925.7,709Z M951.6,677.9 955.9,676.2 962.8,679.7 967.9,683.1 971.4,687.4 975.7,690 976.6,691.7 972.2,691.7 967.1,688.3 961,685.7 955.9,683.1 952.4,680.5Z M967.9,635.7 970.5,636.6 970,639.1 967.6,638.3Z M982.9,637.9 986,638.3 985.2,640.3Z M978.3,650.3 984.3,648.6 983.4,652.9 980,652.9Z M993.8,662.4 999.8,658.1 1003.3,660.7 1005.9,665 1000.7,665.9 997.2,664.1Z M996.4,676.2 1000.7,675.3 1002.4,679.7 1000.7,684 998.1,683.1Z M1012.8,689.1 1017.9,688.3 1017.1,691.7 1013.6,691.7Z M1002.4,696 1007.6,693.4 1008.4,694.3 1003.3,697.8Z M1041.2,711.6 1043.8,712.4 1042.9,718.4 1038.6,723.6 1036.9,721.9 1037.8,716.7Z M1020.5,709 1027.4,705.5 1028.3,707.2 1022.2,710.7Z M993.8,707.2 997.2,705.5 998.1,710.7 994.7,711.6Z M980,692.6 983.4,693.4 986,696.9 983.4,696.9Z M986,697.8 990.3,699.5 989.5,701.2Z M908.4,697.8 912.8,696 915.3,700.3 910.2,701.2Z M913.6,705.5 917.1,706.4 917.1,709.8 914.5,709Z M910.2,686.6 912.8,685.7 913.6,690 911,690.9Z M972.2,672.8 974.8,673.6 975.7,676.2 973.1,675.3Z M963.6,665.9 965.3,666.7 964.5,671 963.1,670.2Z M978.3,659 980,659.3 979.3,661Z M990.3,702.1 992.9,701.2 992.1,704.7Z M1002.4,709 1005.9,708.1 1004.5,712.4 1002.1,712.8Z M1011,713.3 1013.6,713.8 1012.8,716.7 1010.7,715.9Z M979.1,717.6 981.7,717.2 980.9,720.2 978.6,719.7Z M987.8,718.4 990.3,717.6 990,720.2Z M969.7,717.6 972.2,717.9 971.4,719.7Z M962.8,717.2 964.5,718.4 963.4,719.7Z M974,699.5 975.7,700.3 974.8,702.9Z M983.4,702.1 985.2,702.4 984.5,704.7Z M978.3,709 980,709.3 979.3,711Z M997.2,721.9 999,722.4 998.3,723.8Z M1002.4,721 1004.1,721.4 1003.4,722.8Z M1025.7,711.6 1027.4,712.1 1026.6,713.4Z M1028.3,713.3 1030,713.8 1029.3,715.2Z M955,671 956.7,671.4 955.9,672.8Z M958.4,671 960.2,671.4 959.3,672.8Z M991.2,677.1 992.9,677.4 992.1,678.8Z M1017.9,694.3 1020,694.8 1019,696.2Z M1015.3,698.6 1017.1,699 1016.2,700.7Z M993.8,715.9 995.9,716.4 995.2,717.9Z M982.6,712.4 984.3,712.8 983.4,714.5Z"/>
<path fill="#0a4526" stroke="#0a4526" stroke-width="0.6" d="M1151.2,697.2 1147.6,704.5 1143.9,709.4 1146.3,713.1 1142.7,718 1137.8,720.4 1132.9,725.3 1128,727.7 1121.9,726.5 1118.3,724.1 1117,720.4 1121.9,718 1126.8,715.5 1128,710.6 1135.4,709.4 1141.5,705.8 1147.6,699.7Z"/>
<path fill="#65b32e" stroke="#65b32e" stroke-width="0.6" d="M969.3,746.1 974.2,743.6 982.7,746.1 992.5,744.8 1003.5,743.1 1009.6,744.8 1014.5,743.1 1016.2,746.1 1012,749.7 1002.3,752.2 992.5,754.6 987.6,750.9 979.1,752.2 970.5,750.9Z M1027.9,727.7 1030.4,729 1030.4,735.1 1027.9,736.3Z M724,648 728.3,650.2 730,654.5 731.7,658.8 733.4,663.5 731.7,668.6 732.2,672.9 731.3,679 730.9,684.1 730,689.3 729.1,692.3 726.6,691.9 724,690.2 721.4,690.6 720.1,693.2 719.2,695.8 716.2,696.6 714.1,695.8 712.8,694.1 710.6,694.5 709.7,691.9 710.2,686.7 710.6,681.6 711.9,678.1 711,675.5 711.5,671.2 711.9,666.9 710.2,663.4 707.6,661.4 707.6,657.1 711.9,656.6 716.2,654.5 719.7,651Z M679.3,437.1 681.4,439.7 682.4,441.7 684.5,444.8 682.9,447.2 680.9,446.9 679.3,445.9 679.8,443.3 680.9,441.2 679.8,439.1Z M649.8,433.2 652.9,432.7 656.6,433.4 659.1,434 657.6,435.3 655.5,435.5 652.4,434.5Z M765.7,81.8 770.6,80.6 777.9,80 773,83.1 766.9,84.3Z M759.6,91 761.4,87.3 763.3,85.5 762.6,88.5 760.8,91.6Z M821.1,26.3 825.9,23.8 829.6,20.8 828.4,24.4 824.7,27.5Z M715.7,182.8 718.8,182.8 719.4,185.3 716.9,186.5Z M865.1,135.8 868.1,135.2 868.8,137.6 866.3,138.2Z M841.9,176.1 844.3,177.3 843.7,180.4 841.9,179.1Z"/>
<path fill="#1e8038" stroke="#1e8038" stroke-width="0.6" d="M718.8,233.5 725.5,238.4 730.4,243.3 734,245.7 736.5,242.6 740.1,248.1 745,247.5 743.8,245.1 748.1,243.3 751.1,246.9 753.6,251.8 756,255.5 756,260.4 756.5,262.2 755.8,270.8 754.6,278.1 752.2,277.5 750.4,274.4 747.9,275.6 745.5,272.6 744.2,267.1 743,262.2 740.6,262.8 740,263.4 736.9,263.4 735.7,267.7 732,267.1 730.8,262.2 728.4,256.1 723.5,252.4 711.3,251.8 711.4,251.8 713.3,244.5 710.8,241.4Z M909.6,332.6 913.3,335.6 916.9,336.9 919.4,339.3 923,338.7 923.6,334.4 930.4,333.2 934,332.6 931,335 927.9,340.5 926.1,345.4 926.7,351.5 925.5,354 921.2,357.6 918.1,359.5 917.5,354.6 913.3,353.3 911.4,350.3 913.3,345.4 910.8,340.5 907.8,335.6Z"/>
<path fill="#0a4526" stroke="#0a4526" stroke-width="0.6" d="M566.3,190.5 569.3,187.5 572.4,187.5 573.6,189.9 573,193 571.1,194.2 569.3,192.4 567.5,192Z M574.8,187.5 577.9,189.3 576,190.3Z M570.3,196 572,197.2 571.5,198.8Z M568.1,200.9 569.9,202.7 569.3,205.8 568.1,204Z M370.5,2 391.5,2 389,3.6 382,3.2 375,3.8 371,3.2Z"/>
<path fill="none" stroke="#6e6e6e" stroke-width="1.1" d="M799.1,72.6 790.5,73.9 786.3,77.5 780.8,76.3 M754.1,150.2 760.8,151.4 765.7,147.8 774.2,147.2 M775.5,147.8 782.8,154.5 791.3,163 799.9,169.7 807.2,170.4 813.9,167.9 819.4,172.2 823.1,177.7 M719.4,190.1 725.5,190.8 727.9,194.4 726.1,198.7 729.1,201.7 727.9,206 719.4,206.6 713.3,210.3 710.2,213.3 702.3,214 697.4,212.1 691.3,212.1 M727.9,206 732.8,207.9 737.1,205.4 737.7,200.5 745,199.3 748.7,201.7 752.3,206 757.8,206.6 M710.2,213.3 711.4,218.8 715.7,221.3 719.4,224.9 716.9,229.8 718.8,233.5 M711.4,251.8 705.9,260.4 701.1,257.9 696.2,262.8 691.3,261.6 687,264 M705.9,260.4 710.2,264 710.8,270 M759,207.9 768.2,212.7 771.9,220.1 780,220.7 M706.4,261 699.1,258.5 695.4,262.2 691.7,261.6 687.5,261 M706.4,261 710.1,252.4 711.3,250 M706.4,261 704,265.9 702.1,274.4 699.1,279.3 697.9,283 699.1,289.1 M706.4,261 710.1,262.8 711.3,269.5 714.9,276.3 722.3,279.3 725.9,277.5 727.8,281.1 M756.5,271.4 762.6,272 766.2,275.6 769.9,280.5 773.6,281.1 774.8,275 782.1,274.4 782.7,265.9 782.1,256.1 787,252.4 794.3,254.9 800,251.2 M782.1,274.4 787,281.7 785.8,291.5 778.4,297.6 777.2,304.9 772.3,313.5 777.2,318.4 774.8,323.3 776,329.4 782.1,328.1 789.4,326.9 800,326.9 M785.8,291.5 791.9,294 794.3,301.3 800,298.8 M776,329.4 769.9,330.6 M758.3,270 765.6,273.7 769.3,279.8 773,281 774.8,274.9 782.7,274.3 782.1,270 M782.7,274.3 784.6,279.8 788.2,282.2 787,288.3 785.2,292.6 779.1,296.9 777.9,305.4 771.7,314.6 772.4,316.4 777.9,317.6 774.8,322.5 776.6,329.2 769.9,330.4 M785.2,292.6 791.9,293.8 793.7,299.3 796.2,301.1 803.5,297.5 804.1,293.2 807.8,292 811.4,294.4 M776.6,329.2 784,327.4 792.5,329.2 799.8,326.8 806.5,329.8 M815.7,270 819.4,273.1 823,273.7 M853.3,224.6 859.4,226.4 866.7,222.1 876.5,221.5 881.3,216 886.2,210.5 890.5,203.2 894.2,200.8 898.4,202 M898.4,202 896,192.2 897.8,187.3 894.8,180 M898.4,202 902.1,208.7 909.4,209.9 914.3,205 920,200.8 M871.6,242.9 877.7,237.4 878.9,228.8 886.2,227.6 891.1,222.1 896,223.3 902.1,221.5 905.8,224 M809.9,206.3 791,205 788.5,209.3 786.1,214.8 781.8,216 780,220.3 M812.4,238.6 810.5,246.5 802.6,250.2 797.7,249.6 794,255.7 789.2,252.6 782.4,253.9 783.7,265.5 782.4,274.6 784.9,280 M825.2,246.5 824,253.3 816.6,258.1 814.8,267.9 819.1,274.6 M790,162 801,170 808.3,170 813.8,168.1 820.5,173 823.6,177.3 M855.9,164.5 862,165.7 864.5,171.8 873,176.7 875.5,174.2 875.5,169.4 879.1,164.5 887.1,166.3 890.1,175.5 896.2,184 898.1,190 M860,165 862.4,166.3 866.1,172.4 872.2,176.6 875.3,174.8 875.9,168.7 878.9,164.4 886.9,166.3 890.5,176.6 895.4,182.1 898.5,188.8 895.4,192.5 899.7,201.1 899.1,205.9 902.7,209.6 908.8,210.2 912.5,206.5 919.8,200.4 925.9,195.6 932.6,188.8 M899.7,202.3 893,201.1 890.5,206.5 886.3,211.4 879.5,216.9 875.9,221.8 867.3,221.8 860,226.7 M905.8,224.2 902.1,221.2 896.6,223.6 890.5,221.8 884.4,228.5 878.9,228.5 878.3,235.2 874.7,240 M728.8,430 722.7,434.9 719.1,438.5 720.3,442.2 716,445.9 711.7,449.5 710.5,454.4 708.7,460.5 706.9,463.6 714.2,465.4 715.4,470.3 716,474.6 720.3,475.8 723.3,472.7 723.3,464.2 728.8,462.4 733.7,458.1 737.4,453.8 735.6,449.5 738.6,442.2 735.6,437.3 732.5,436.7 730.1,430 M735.6,437.3 741.1,433.7 745.9,430 M737.4,453.8 742.3,456.9 745.9,459.9 750.2,457.5 754.5,455 758.1,456.3 763,456.3 765.5,459.3 M763,456.3 761.8,452.6 766.7,449.5 771.6,445.3 767.9,441.6 765.5,444.7 759.4,442.2 754.5,438.5 749,434.9 747.2,430 M767.9,441.6 765.5,436.1 767.9,431.2 776.5,430 M777.7,430 780.1,434.3 787.4,434.9 793.6,431.8 798.4,430.6 M687.9,456.3 693.4,454.4 699.5,450.8 707.5,445.3 710.5,449.5 M687.3,474 692.2,472.1 697.1,472.7 699.5,476.4 700.1,481.3 M716,474.6 715.4,480.1 712.4,485.6 M723.3,470.3 728.8,469.7 732.5,471.5 737.4,475.2 738.6,481.3 742.3,487.4 742.3,492.3 737.4,497.2 736.8,502 738.6,509.4 737.4,514.2 731.3,514.9 M790,404.9 796.1,406.1 801,401.2 805.9,400 M811.4,400 810.8,409.8 812.6,417.1 819.3,423.2 825.4,427.5 831.5,426.3 835.2,429.3 838.8,434.8 843.7,435.4 842.5,431.7 844.9,426.9 846.2,419.5 851.1,414.7 853.5,408.5 847.4,408.5 840.1,405.5 831.5,403.7 830.9,400 M853.5,408.5 856.5,404.9 857.2,400 M853.5,408.5 863.3,408.5 868.1,412.2 874.2,418.3 871.8,422 873,427.5 868.1,433 865.1,437.9 860.2,435.4 851.1,436 843.7,435.4 M873,427.5 880.4,429.9 887.7,431.1 892,430.5 890.7,422 887.7,419.5 890.1,412.2 899.9,407.3 904.8,401.2 M802.2,433 813.2,429.9 814.4,425 819.3,423.2 M838.8,434.8 834.6,442.7 830.3,451.3 M851.1,436 849.8,441.5 850.4,446.4 847.4,453.7 843.7,456.8 M865.1,437.9 866.9,442.7 869.4,445.8 863.3,447.6 860.8,453.7 859.6,458.6 864.5,462.3 864.5,465.9 M869.4,445.8 874.2,446.4 877.3,450.7 885.2,447 890.1,441.5 893.8,435.4 892,430.5 M885.2,447 887.7,454.9 891.3,464.1 M893.8,435.4 899.9,439.1 904.8,444 912.1,442.7 916.4,442.1 M851.1,473.9 854.7,478.1 857.8,483 854.7,487.9 856.5,492.8 859.6,495.2 860.8,497.7 M873,473.3 875.5,478.1 877.9,480.6 880.4,487.3 M904.8,485.5 899.9,490.4 892.6,494 891.3,500 M832.7,490.4 838.2,489.7 838.8,494 841.3,497.7 840.1,500 M689.5,392.7 690.1,398.2 687.6,401.3 676.6,404.3 675.4,401.3 M690.1,398.2 694.9,398.8 698.6,402.5 M687.6,401.3 688.2,407.4 694.3,409.8 M676.6,404.3 677.9,407.4 674.2,411.1 675.4,414.7 679.1,422 671.7,422.6 669.9,418.4 670.5,415.3 673,413.5 M677.9,407.4 682.7,405.6 684,411.1 687,413.5 687.6,417.2 692.5,417.8 698,413.5 M679.1,422 681.5,425.7 684.6,426.3 M671.7,422.6 664.4,426.3 660.8,427.5 657.1,425.1 M681.5,425.7 676.6,425.1 664.4,427.5 M683.3,429.4 682.7,434.2 679.1,437.9 M723,383 727.9,384.8 734,390.3 737.7,392.7 745,394 747.4,389.1 746.2,383 747.4,380.5 M734,390.3 737.1,387.2 739.5,392.1 M745,394 749.9,397.6 754.8,400.7 759.7,396.4 765.8,394.6 774.3,397 780,395.2 M754.8,400.7 762.1,403.7 764.5,408.6 764.5,415.9 767,420.8 774.3,423.3 778,426.9 778,427 M754.8,402.5 747.4,404.9 746.8,408.6 749.3,413.5 748.7,419.6 743.8,423.3 744.5,427.4 M698.6,417.2 705.9,413.5 709.6,416.5 710.2,420.8 714.5,420.2 715.1,414.1 719.4,412.9 721.8,414.7 724.2,413.5 724.2,418.4 727.3,423.3 728.2,427.1 M717.5,397.6 723,399.5 721.8,401.9 719.4,400.1 717.5,397.6 M818.6,366.3 819.8,371.7 822.3,379.1 821.7,384.6 817.4,390.1 819.8,392.5 816.2,396.8 812.6,397.2 M821.7,384.6 827.8,387 835.7,380.3 844.2,381.5 849.7,382.7 854,375.4 849.7,370.5 851,366.9 M849.7,382.7 856.5,387 859.5,390.1 866.2,388.8 880.9,381.5 889.4,377.9 893.1,373 893.1,368.1 890,363.2 891.3,359.5 M880.9,381.5 883.3,388.8 891.9,393.7 895.5,398.6 900,401.1 M827.8,387 829,393.7 830.2,397.1 M856.6,397.1 859.5,390.1 M781.4,392.5 784.4,390.7 789.3,393.7 M775.9,410.8 780.1,408.4 783.8,413.3 777.1,414.5 775.9,410.8 M947.2,490.7 949,497.6 949.8,502.8 943.8,507.1 938.6,512.2 937.8,518.3 931.7,520.9 924.8,521.7 919.7,525.2 912.8,521.7 905.9,521.7 901.6,522.6 M949.8,502.8 956.7,501.9 961,506.2 964.5,511.4 969.7,515.7 974,520.9 981.7,517.4 990.3,515.7 996.4,514.8 M974,520.9 974.8,528.6 971.4,533.8 962.8,537.2 955.9,535.5 949,536.4 942.1,539 935.2,541.6 931.7,536.4 926.6,528.6 919.7,525.2 M971.4,533.8 976.6,539 981.7,545 990.3,545 1000.7,542.4 1005,548.4 1002.4,552.8 995.5,557.9 992.1,559.7 M995.5,557.9 1004.1,558.8 M949,536.4 949.8,544.1 954.1,552.8 958.4,561.4 957.6,569.1 957.6,574.3 M935.2,541.6 926.6,545.9 922.2,549.3 920.5,557.9 917.9,563.1 M973.1,550.2 976.6,548.4 980,551 980,556.2 976.6,558.8 973.1,556.2 973.1,550.2 M967.9,574.3 967.1,582.1 964.5,588.1 966.2,593.3 973.1,591.6 983.4,589 980.9,583.8 980,578.6 983.4,574.3 992.1,573.4 995.5,568.3 1000.7,564 M983.4,589 990.3,584.7 999,582.9 1009.3,582.9 M966.2,593.3 957.6,595 950.7,590.7 943.8,591.6 940.3,589 933.4,590.7 M966.2,593.3 969.7,599.3 971.4,604.5 980,603.6 985.2,605.3 992.1,601 M957.6,595 957.6,599.3 952.4,602.8 951.6,610 M889.2,502.1 886.9,505.3 881.7,507.1 874.8,505.3 868.8,502.8 862.9,499.8 M861.5,500.6 860.2,504.5 861,511.4 864.5,518.3 865.3,526.9 864.5,535.5 865.3,541.6 M864.5,518.3 871.4,517.4 876.6,514 880.9,521.7 886.9,519.1 890.3,512.2 897.2,514.8 901.6,515.7 M874.8,505.3 880,513.1 880.9,521.7 M861,511.4 863.6,507.9 867.9,508.8 867.9,512.2 864.5,513.1 861,511.4 M864.5,518.3 859.3,525.2 854.1,523.4 847.2,524.3 840.3,527.8 838.6,536.4 M847.2,524.3 842.9,520 838.6,515.7 847.2,512.2 848.1,507.9 852.4,505.3 M799.3,641.2 806.6,642.4 815.2,640 M815.2,640 818.8,644.9 822.5,648.5 826.8,648.5 M828,669.3 829.8,670.5 834.7,671.1 838.4,670.5 840.2,667.5 843.3,666.9 M923.1,640 928.3,650.3 931.7,654.7 924.8,659 917.1,662.4 911.9,659 910.2,653.8 M931.7,654.7 938.6,657.2 946.4,662.4 M917.1,662.4 918.8,669.3 922.2,676.2 918.8,678.8 914.5,679.7 M922.2,676.2 930,674.5 935.2,673.6 940.3,676.2 946.4,676.2 M922.2,676.2 925.7,683.1 931.7,685.7 933.4,690.9 M951.6,627.1 955.9,631.4 959.3,635.7 M941.2,696 939.5,702.1 933.4,703.8 934.3,710.7 936.9,713.3 M699.5,593.1 705.5,587.1 709.8,581.9 712.4,579.3 719.3,577.6 725.3,577.6 729.7,580.2 734.8,583.6 740,590.5 738.3,592.2 733.1,587.9 727.9,585.3 722.8,582.8 717.6,581.9 712.4,583.6 708.1,587.1 703.8,592.2 699.5,593.1 M733.4,582 739.5,583.8 745.6,587.5 753,588.1 757.9,586.3 762.1,588.7 762.7,592.4 767.6,594.2 770.7,595.4 768.8,600.3 767,606.4 765.8,611.3 765.2,615.6 762.1,619.8 759.7,623.5 755.4,623.5 751.7,619.2 748.1,613.7 744.4,611.3 743.8,606.4 742,600.3 740.1,594.2 737.1,588.7 733.4,583.2 733.4,582 M690.7,551.7 693.3,549.1 695.9,550.4 700.2,549.1 704.5,549.6 705.3,552.6 705.3,556 701.9,556.9 696.7,557.8 694.1,558.6 692.4,556 690.7,551.7 M810.4,629.6 816.5,631.4 816.5,634.5 814.6,639.4 809.1,641.2 804.2,641.8 799.4,641.8 799.4,637.5 803,634.5 805.5,632.6 807.9,633.3 810.4,629.6 M822.5,652.8 826.8,648.5 829.8,647.3 832.3,650.4 835.9,653.4 840.2,655.3 843.3,654.7 844.5,658.3 845.7,662.6 843.3,666.9 842.6,671.7 844.5,676 848.1,677.9 852.4,681.5 853.6,685.2 853,690.1 848.1,692.5 844.5,694.9 845.1,698.6 844.5,702.3 840.8,706.5 838.4,710.2 835.9,712.6 831.1,712.6 830.4,709.6 832.3,705.9 834.1,702.3 833.5,698 837.2,696.2 837.8,692.5 836.5,687.6 834.7,682.7 832.3,677.9 829.8,673 828,669.3 829.8,665.6 827.4,660.8 824.9,657.1 822.5,652.8 M717,546.1 719.6,548.3 720.9,552.2 722.2,550.9 723,547.4 725.2,544 726,540.1 727.8,538.8 729.5,540.9 732.1,542.2 734.7,540.9 737.2,543.1 738.5,542.2 737.2,539.7 738.1,537.9 740.7,536.6 742.8,536.2 742.8,536.2 744.1,539.7 743.7,544 743.3,548.3 744.1,551.7 747.6,552.6 746.7,556 745.9,560.3 747.6,563.8 751.9,567.2 754.5,570 744.4,570.4 734.7,567.3 727.9,567.9 724.9,575.9 721,569 718.3,570 715.3,567.7 714.8,564.2 716.6,562.9 718.3,560.8 717,556 716.6,551.7 717,546.1 717,546.1 M796.3,646.1 799.4,641.8 799.4,637.5 803,634.5 805.5,632.6 807.9,633.3 810.4,629.6 M724.9,575.9 727.9,567.9 734.7,567.3 744.4,570.4 754.2,570.4 761.5,569.8 768.8,569.8 772.5,571.6 M724.9,575.9 728.5,581.4 734.7,581.4 739.5,583.8 745.6,587.5 753,588.1 757.9,586.3 762.1,588.7 762.7,592.4 767.6,594.2 770.7,595.4"/>
<path fill="none" stroke="#a2a6a2" stroke-width="1.1" d="M729.3,324.9 734.5,327.5 738.8,325.3 M715.9,343 728.4,340.8 731.9,345.1 M775.9,525.7 780.2,526.1 785.3,525.3 788.8,526.1 791.4,526.1 794,527.8 796.6,526.1 800.9,525.3 806,524.8 808.6,528.3 809.1,532.6 M744.8,538.6 749.1,538.2 753.4,539.5 755.2,542.1 757.8,541.2 761.2,538.6 M762.9,539.5 763.4,543.8 764.7,544.7 761.2,548.1 757.8,549 755.2,551.6 753.4,555 749.1,554.6 748.3,552.8 M775.9,535.6 773.3,537.8 770.7,541.2 771.6,545.5 773.3,549.8 776.7,552 780.2,552.4 781,555 M802.6,538.6 805.2,541.2 807.8,542.9 808.2,546.4 806,549 805.2,551.6 800.9,549.8 796.6,549.8 795.7,552.4 796.6,556.7 M775.9,525.7 771.6,524.4 768.1,525.7 766.4,525.3 767.2,521.8 773.3,518.8 774.1,517.1 777.6,514.5 778.9,510.2 780.2,507.6 M782.9,509 783.8,510.6 787.4,514.2 789.3,511.8 794.8,513 802.1,510.6 807,509.4 811.9,508.1 820,513 M802.1,510.6 799.7,504.5 800.9,500.8 804.5,498.4 803.3,493.5 M787.4,514.2 787.4,520.4 792.3,522.8 792.2,523.2 M771,466.6 776.5,465.4 782.6,461.7 789.9,457.5 796,453.8 794.8,448.3 796.6,445.9 M796,453.8 802.1,450.8 805.8,453.8 808.2,460.5 811.3,465.4 807,469.1 803.3,472.7 797.2,472.1 788.7,473.3 787.4,466.6 782.6,461.7 M811.3,465.4 820,468.5 M803.3,472.7 804.5,477 811.9,480.7 814.3,484.9 M793.6,461.1 796.6,459.3 799.7,461.7 796,464.8 793.6,461.1 M822.7,469.7 824.2,470.2 829.1,469.6 827.9,462.3 829.1,453.7 M829.1,469.6 832.1,474.5 835.2,479.4 841.3,483 M834.6,455.6 833.3,462.3 838.8,465.9 843.7,469.6 851.1,470.8 M577.6,484.3 586.2,486 594.8,485.2 600,489.5 603.4,488.6 607.8,493.8 610.3,485.2 619,482.6 620.7,476.6 623.3,474 624.1,464.5 620.7,457.6 M623.3,474.8 631,476.6 641.4,479.1 646.6,485.2 650,476.6 655.2,473.1 658.6,462.8 M619,482.6 620.7,488.6 625.9,494.7 632.8,499 637.9,499 644.8,494.7 646.6,486 M607.8,493.8 607.8,500.7 601.7,505.9 597.4,508.4 594,515.3 581,517.1 583.6,523.1 582.8,530 575,530.9 M594,515.3 601.7,521.4 606.9,530 610.3,534.3 624.1,534.3 629.3,530 637.1,527.4 636.2,516.2 636.2,507.6 639.7,500.7 637.9,499 M644.8,494.7 650,504.1 658.6,505 663.8,504.1 670.7,513.6 677.6,507.6 682.8,505 691.4,508.4 695.7,516.2 M637.1,527.4 644.8,530 649.1,540.3 655.2,540.3 658.6,542.1 663.8,535.2 672.4,540.3 678.4,540.3 M624.1,534.3 628.4,542.1 625.9,550.7 619,559.3 617.2,564.5 610.3,561.9 603.4,570 M617.2,564.5 619,570 M647,445.4 653.7,446 659.8,446.6 665.9,446.6 672,447.9 678.1,446.6 681.8,447.9 M836.2,501.7 832.6,501.1 827.7,505.4 825.8,509.1 826.5,512.7 824,515.2 823.4,516.4 822.8,521.3 824,526.8 M823.4,498.7 825.8,496.3 828.3,498.7 823.4,499.3 823.4,498.7 M602.6,572.9 600.3,575.9 596.9,580.2 584,581.9 580.5,587.1 583.1,594.8 578.8,601.7 M622,569.7 626.2,567.2 631.4,571.6 636.6,566.4 643.4,569.8 646.9,578.4 650.3,581 657.2,581.9 660.7,580.2 667.6,585.3 671,584.5 668.4,580.2 672.8,575 677.9,570.7 681.4,566.4 686.6,566.4 M657.2,581.9 656.4,589.7 650.3,597.4 M557.2,591.4 550.3,596.6 545.2,603.4 540,606.9 M545.2,605.2 552.1,610.3 553.8,616.4 M579.7,648.3 584,652.6 M557.2,660.3 552.1,667.2 549.5,672.4 552.9,677.6 557.2,684.5 553.8,687.9 548.6,690 M475.9,570.3 479.3,577.2 478.4,584.1 476.7,585.9 M510.3,585 515.5,582.4 527.6,582.4 M534.5,591 536.2,587.6 541.4,585.9 M535.3,596.2 539.7,599.7 541.7,602.1 M533.6,605.7 537.9,603.1 539.6,603.6 M506.9,642.8 512.1,647.9 517.2,651.4 513.8,655.7 520.7,654 526.7,654 525.9,646.2 522.4,639.3 523.3,630.7 M492.2,646.2 489.7,651.4 492.2,658.3 498.3,663.4 494.8,670.3 489.7,675.5 481,680.7 479.3,685.9 469,688.4 458.6,681.6 M489.7,675.5 496.6,681.6 501.7,685.9 512.1,686.7 524.1,687.6 529.3,691 531,697.1 532.8,700 M531,697.1 541.4,692.8 546.6,692.8 546.9,692.5 M556.8,689.2 556.9,689.3 555.2,700 M535.3,701.7 536.2,702.8 537.9,709.7 541.4,713.1 M770.7,595.4 772.5,599.1 778.6,601.5 779.8,606.4 783.5,611.3 786.5,613.7 792,612.5 796.3,611.9 M786.5,613.7 786.5,617.4 781.1,619.8 776.2,623.5 772.5,619.8 766.4,617.4 765.2,615.6 M786.5,617.4 789.6,618.6 785.3,621.1 787.2,627.2 783.5,629.6 788.4,633.3 795.7,636.3 799.4,637.5 M533.5,357.7 527.4,361.4 522.5,359.6 520.7,356.5 516.4,358.3 514.6,363.8 512.7,369.9 507.9,373 503,371.8 500.5,368.7 M512.7,369.9 511.5,376.1 515.2,379.1 521.3,379.7 527.4,381.5 528,384 532.3,384.6 M571,601.7 577.1,604.3 584.8,607.8 591.7,609.5 592.6,613.8 590,622.4 586.6,629.3 584,636.2 581.4,643.1 579.7,648.3 575.3,647.4 571.9,650 571,655.2 565.9,659.5 561.6,662.9 557.2,660.3 552.9,656 548.6,651.7 552.1,646.6 552.1,639.7 546.9,634.5 546,631 551.2,624.1 552.1,619 559,618.1 560.7,610.3 565.9,606.9 571,601.7 M474.1,602.2 477.6,594.5 474.1,591 476.7,585.9 486.2,584.1 494,585.9 503.4,585.9 510.3,585 512.1,588.4 517.2,590.2 520.7,595.3 523.3,591.9 527.6,591 534.5,591 535.3,596.2 533.6,601.4 533.6,605.7 532.8,610.9 536.2,614.3 543.1,615.2 548.3,617.8 550.9,619.5 550,625.5 546.6,629.8 545.7,635 540.5,634.1 536.2,630.7 529.3,629 523.3,629.8 517.2,633.3 512.1,637.6 506.9,642.8 504.3,645.3 498.3,646.2 492.2,646.2 488.8,642.8 484.5,640.2 479.3,636.7 474.1,637.6 469,637.6 469,634.1 469.8,626.4 472.4,621.2 478.4,617.8 481.9,614.3 479.3,610 477.6,604 474.1,602.2 M532.8,475.7 544.8,474 555.2,473.1 560.3,479.1 565.5,480 572.4,480 576.7,480.9 577.6,485.2 581.9,485.2 582.8,492.1 581,496.4 574.1,499 565.5,500.7 560.3,504.1 556.9,501.6 551.7,498.1 544.8,492.9 537.1,489.5 533.6,486 535.3,481.7 532.8,475.7 M743.1,530.4 746.6,530.9 750.9,531.7 753.4,529.1 758.6,527.8 762.9,527 767.2,526.6 768.1,529.1 771.6,532.6 774.1,533.9 771.6,534.7 767.2,534.3 763.8,536.9 761.2,538.6 757.8,541.2 755.2,542.1 753.4,539.5 749.1,538.2 744.8,538.6 742.7,535.2 743.1,530.4 M730.8,516.8 733.8,516.4 737.2,518.5 739.8,521.1 739,522.8 738.1,526.7 736.4,529.7 733.8,527.6 730.3,527.2 728.6,525.9 729.9,522.8 730.8,519.8 730.8,516.8"/>
<path fill="#fff" stroke="#111" stroke-width="0.7" d="M735.2,181.6 745,178.3 745.3,183.2 737.1,184.4Z M724.6,319.3 726.7,318.8 727.6,324.4 726.7,325.3 725.4,322.3 723.3,324 723.7,320.6Z M604.7,612.4 608.1,612.4 608.6,615.2 605.2,615.2Z M785,383.3 789.3,382.1 792.4,384 790.5,385.8 786.3,385.2Z"/>
<path fill="none" stroke="#0a120a" stroke-width="1" d="M469.7,56.5 473.3,59.5 475.8,68.7 473,76.6 473.3,82.1 481.3,79.1 486.2,73.6 489.2,79.7 493.5,77.2 497.8,77.2 499.8,84 502,80 506.9,83 515.5,82.5 519.7,78.8 522.2,80.3 524.6,86.2 527.7,86.6 528.3,96.2 531.3,101.1 532.3,106.5 530.1,113.9 525.2,118.8 519.7,121.8 514.2,124.9 508.1,124.5 502,126.1 494.7,128.5 487.4,127.7 478.8,129.7 472.7,128.5 465.4,123.6 461.1,118.1 456.9,110.8 444.7,105.9 446.5,101.7 448.3,103.5 454.4,103.2 456.9,99.8 460.5,100.1 456.3,97.4 455,88.8 447.1,83 461.7,84.9 462.4,80.9 465.4,77.2 461.7,73 453.2,71.1 451.7,67.5 455,65.4 457.5,65.6 459.9,60.8 463,59.5 467.2,65 468.5,64.4 468.8,57.7Z M816.3,307.2 816.9,310.3 813.9,323.7 811.4,331.1 810.8,324.9 813.3,316.4Z M840.1,291.4 836.5,296.3 837.1,302.4 832.8,309.1 831,314 829.7,310.3 828.5,302.4 831,296.3 834.6,293.2Z M836.8,242.3 839.8,239.8 842.9,242.3 842.3,245.9 838.6,245.9Z M845.9,245.3 847.4,245.9 846.9,247.4 845.7,246.9Z M793.1,352.4 798.6,354.9 798,357.9 793.7,357.3 792.5,354.9Z M888.2,31.1 887,29.3 876,26.6 883.1,17.1 880.9,14.7 874.8,12.8 867.4,11.6 864.8,18.3 862.6,10.4 858.7,8.5 855.8,11 854.6,22 851.6,15.9 850.1,15.9 845.5,29.3 844,28.7 844.9,12.8 843,12.2 838.1,17.1 835.7,22.6 830.2,25 825.9,30.5 819.2,35.4 821.1,40.9 816.8,42.1 814.3,38.8 813.1,48.8 810.1,45.2 807,46.4 803.3,40.9 800.3,42.7 797.2,51.3 797.9,53.7 793,54.3 789.9,57.4 790.5,63.5 793,64.1 792.4,67.2 788.1,69.6 785,67.8 782.6,72 781.4,69.6 781.7,61.1 779.5,63.5 778.3,72 776.5,68.4 774.7,66.9 771,71.4 772.2,75.1 775.9,76.3 779.5,73.3 780.1,76.9 773.4,81.2 765.5,83.6 766.1,85.5 778.3,81.2 784.4,78.1 785.6,80.6 785,84.2 782,83.6 775.9,90.4 778.3,94 774.7,100 776.1,98.3 771.8,103.8 768.1,109.3 764.5,115.4 762.6,122.7 759.6,128.2 757.2,133.7 756.5,138.6 754.7,143.5 754.1,148.4 751.1,150.8 749.8,152.6 744.9,153.3 744.3,156.3 746.2,158.8 741.3,163 737.6,167.9 735.2,174 733.3,180 734,176.1 734.6,179.8 731,181 726.7,178.5 724.2,175.5 722.4,181.6 724.9,184.7 719.4,187.7 718.1,190.1 712,190.8 707.2,194.4 703.5,199.3 699.8,201.1 699.2,204.2 692.5,205.4 691.3,210.9 688.2,212.1 687,217.6 687.6,223.7 685.8,228.6 687,232.3 685.2,236.5 684,243.3 684.6,249.4 686.4,251.2 685.2,255.5 685.8,260.4 687,264 685.8,270 685,270.1 689.3,271.4 688.7,275.6 687.5,280.5 690.5,285.4 695.4,289.7 699.1,292.7 700.3,295.2 708.8,297 714.9,294 721.1,289.7 725.9,284.2 732,279.3 738.1,274.4 741.2,272.6 741.8,265.9 740.6,262.8 743,262.2 744.2,268.3 745.5,273.2 747.9,275.6 749.7,274.4 749.7,280.5 751,287.9 754,296.4 756.5,304.9 760.1,311.1 763.8,320.8 768.7,326.9 769.9,329.4 767.4,334.2 769.9,340.4 772.3,346.5 772.9,350 776.6,351.2 786.4,349.4 787,343.3 788.8,337.2 792.5,335.3 801.1,332.3 804.7,334.1 807.2,328.6 809.6,321.3 811.4,311.5 812,300.5 811.4,294.4 813.3,288.3 810.8,281.6 815.7,279.2 821.8,274.3 825.5,271 830.1,265.5 831.3,259.4 833.1,253.9 828.8,247.8 826.4,245.9 825.2,242.3 819.1,239.2 813,238.6 810.5,231.3 808.7,220.3 809.9,215.4 809.3,204.4 813,198.3 816.6,189.8 819.1,182.4 822.7,180 819.9,183.4 824.2,176.7 830.3,171.8 835.2,168.1 837.6,160.8 840.1,155.9 836.4,147.4 838.8,138.8 841.3,131.5 843.7,125.4 851.1,123 858.4,122.4 865.7,123.6 869.4,126.6 871.2,132.7 871.8,137 868.1,140.1 865.7,147.4 863.3,154.7 859.6,160.8 854.7,164.5 852.9,170.6 851.1,175.5 846.2,179.1 845.9,181.2 843.5,186.1 843.5,191 847.2,198.3 849.6,206.9 852,215.4 852.6,224 852,228.8 853.3,233.7 858.1,235.6 863,237.4 865.5,241.1 869.1,242.9 872.8,243.5 874.6,245.9 883.8,241.1 892.3,234.9 900.9,231.3 904.5,227.6 911.9,224.6 920,220.3 919.8,221.2 921.1,218.1 924.7,210.2 928.4,202.3 932,192.5 935.7,182.7 939.4,174.2 940.3,164.4 938.1,161.4 933.3,157.1 925.9,154.7 920.4,151 930,156.5 924.3,153.5 920.6,149.8 922.5,146.2 922.5,141.3 917,135.2 912.1,129.1 909,123 906.6,114.4 908.4,112 906,104.7 899.9,97.3 900,97.7 893.1,90.4 894.9,78.1 894.3,73.3 888.2,68.4 880.3,61.1 877.8,50.1 880.3,40.9 883.3,33.6Z M819.2,59.8 823.5,66.5 830.8,70.2 838.1,73.3 843.6,79.4 845.5,87.9 848.6,94.9 852.9,102.2 851.7,109.5 854.7,115.6 858.4,122.4 M877.8,50.1 877.2,47.6 878.4,40.3 876,35.4 869.9,33 863.8,28.7 854.6,34.8 853.4,48.8 854.6,54.9 851,63.5 843,60.4 839.4,64.7 833.3,65.3 828.4,61.1 822.3,54.9 819.8,56.2 819.2,59.8 814.3,61.1 813.7,74.5 800.3,72.6 799.7,84.2 795.4,83.6 790.5,85.5 786.9,97.7 789.5,92.2 786.5,98.3 788.9,104.4 786.5,111.7 782.8,117.9 782.8,122.7 775.5,126.4 776.1,134.9 775.5,145.9 773,153.3 770,158.1 774.2,163 773.6,170.4 765.7,170.4 760.8,174 757.8,180 756,189.5 757.2,196.9 757.8,206.6 758.4,210.3 757.8,217.6 760.9,222.5 765.8,226.8 764.5,232.3 759.7,234.7 762.1,240.8 763.9,246.9 762.7,254.2 758.4,258.5 756,260.4 756.5,262.2 755.8,270.8 754.6,278.1 752.8,278.3 M741.8,304.2 742.2,311.5 740.5,318.4 739.7,325.3 742.2,328.3 746.1,329.2 746.6,332.2 744,334.8 742.2,336.1 740.5,339.1 737.9,341.7 736.2,344.7 733.6,345.1 732.8,348.6 733.2,352 731.9,356.3 732.8,359.4 736.2,360.7 735.8,362.8 730.2,363.7 720.7,363.2 720.3,356.3 720.7,352 717.7,351.2 714.2,347.7 715.1,341.7 716.4,340 714.7,334.8 715.5,325.3 719.8,328.3 721.6,324.4 717.7,323.6 716.8,321.9 719.8,316.7 729.3,314.5 732.8,309.8 736.2,306.3Z M734.5,349.4 743.1,348.6 744.8,352 745.3,357.2 744,360.2 738.8,357.6 736.2,354.6Z M756,340.4 757.3,344.3 759.5,344.7 759.5,339.1 763.4,336.9 766.4,338.2 766.8,345.1 765.5,347.7 763.4,349.4 763.8,352 765.1,353.3 762.9,356.3 762.1,358.5 765.5,360.2 762.1,363.2 760.3,366 755.2,367.6 750,366 749.1,363.2 751.7,361.9 756,362.4 759.1,359.8 757.8,356.3 751.7,355.5 750.9,351.2 749.6,346 753.4,343Z M746.6,358.5 747.4,358.9 746.1,364.1 744.8,366 744.4,363.2Z M746.6,311.9 750,311.1 750.9,312.4 748.3,313.7Z M753.4,323.6 755.2,324 754.3,325.3Z M755.6,334.4 756.9,334.8 756.5,335.8Z M742.2,339.1 744,340.8 744,343.4 742.7,343.4Z M927.9,242.4 929.1,245.5 926.1,251 923.6,258.3 926.7,264.4 930.4,271.7 932.2,275.4 930.4,279.1 931,282.7 924.2,283.3 920.6,285.2 915.7,282.1 910.8,279.7 904.7,279.1 899.8,280.9 896.4,282.7 895.6,276.6 894.3,274.8 890.7,276 886.4,273 882.7,268.7 882.1,264.4 881.5,259.5 885.8,255.9 888.2,251.6 893.7,249.8 899.2,246.7 903.5,244.9 913.3,245.5 923,244.3Z M931,282.7 935.2,284 937.7,287.6 937.7,296.2 941.3,298.6 945,303.5 946.8,307.2 944.4,312 942,314.5 941.3,318.1 936.5,318.8 932.8,323 932.2,323 927.9,322.4 923,318.1 918.1,316.3 912,316.9 907.8,312.6 904.7,315.7 899.8,316.9 893.7,316.3 888.8,317.5 881.5,318.1 874.2,320 869.3,324.2 866.9,327.3 864.4,324.2 863.2,318.1 863.8,312 865.6,307.2 866.3,299.8 869.3,294.9 876.6,291.3 880.3,295.6 884,298 887,302.9 891.3,304.1 894.9,302.3 898,298.6 897.4,291.3 896.4,282.7 896.4,282.7 899.8,280.9 904.7,279.1 910.8,279.7 915.7,282.1 920.6,285.2 924.2,283.3 931,282.7Z M866.9,327.3 869.3,324.2 874.2,320 881.5,318.1 888.8,317.5 893.7,316.3 899.8,316.9 904.7,315.7 907.8,312.6 912,316.9 918.1,316.3 923,318.1 927.9,322.4 932.2,323 931.6,327.1 934,330.8 934,333.2 931,335 927.9,340.5 926.1,345.4 926.7,351.5 925.5,354 927.9,356.4 926.7,357 924.2,355.2 921.2,357.6 918.1,359.5 916.9,362.5 913.3,364.3 908.4,365.6 903.5,366.2 899.8,362.5 896.2,360.1 891.9,359.5 890.7,355.2 890.7,350.3 888.2,346.6 882.7,346.6 876.6,345.4 871.7,344.2 869.3,340.5 867.5,334.4 866.3,329.5Z M873,263.2 877.2,266.3 873.6,270.5 869.9,266.3Z M881.5,270.5 882.1,272.4 879.1,276 874.2,280.3 871.7,283.3 870.5,287 869.9,285.2 870.5,282.7 867.5,280.3 867.5,276.6 871.7,274.8 876.6,272.4Z M727.1,612.1 728.8,619 729.7,627.6 727.1,637.9 723.6,644.8 717.6,641.4 715.9,632.8 714.1,625.9 717.6,620.7 722.8,618.1Z M612.4,676.7 619.3,671.6 625.3,670.7 627.1,674.1 630.5,675 628.8,679.3 623.6,683.6 617.6,680.2Z M636.6,669 641.7,669 644.3,673.3 640,672.4Z M592.6,687.1 598.6,684.5 599.5,687.1 595.2,690Z M531.1,328.7 533.5,330.9 528.6,335.8 523.7,340 518.8,344.3 520.1,348 523.7,351.6 527.4,351 529.8,348.6 532.3,351.6 533.5,355.9 537.8,357.7 536.5,362.6 537.2,368.7 535.9,374.8 535.9,380.9 533.5,385.8 529.8,390.7 527.4,395 522.5,393.8 517.6,394.4 511.5,395 505.4,396.8 499.3,399.2 493.2,400.5 485.9,399.9 483.4,396.8 479.8,394.4 477.9,389.5 480.4,387 479.2,382.8 484.7,381.5 489.5,377.9 490.1,375.4 494.4,371.8 499.3,368.1 499.3,365.7 494.4,364.5 491.4,361.4 488.9,357.7 492,354.7 495,351 491.4,349.2 490.8,346.1 493.8,344.9 495,341.9 501.1,342.5 504.8,345.5 510.3,344.3 515.8,341.3 512.7,338.2 512.1,337 517,335.1 515.8,330.9 520.1,329.7 526.2,329.7Z M737.7,615.6 743.2,614.3 743.2,616.8 738.3,617.4Z M829,706.7 826.4,714.5 823.8,721.4 822.9,726.6 825.5,731.7 823.8,739.5 818.6,739.5 813.4,738.6 810,735.2 803.1,731.7 796.2,729.1 789.3,724.8 782.4,722.8 778.1,720.5 776.9,717.1 779,712.8 782.4,711.6 785.9,712.8 790.2,710.2 794.5,711.4 799.7,713.6 810,711.9 818.6,709.7Z M892.7,668.7 895.2,668.1 897,671.7 898.8,674.8 897,675.4 894.5,672.4Z M801.4,568.8 802.6,568.8 803.2,576.8 801.4,576.8Z M804.4,579.2 806.3,579.8 805.6,581.1Z M813,586.5 817.2,591.4 816,592 812.4,588.4Z M834.9,603 843.5,603 843.5,604.2 835.6,604.5Z M839.2,607.3 846.5,605.5 847.8,606.9 840.4,608.9Z M830.1,606.1 832.5,606.1 831.9,607.7Z M809.9,583.5 811.1,584.1 810.5,585.9Z M900.7,669.3 903.3,664.1 905.9,659 910.2,653.8 911.9,648.6 911,643.4 917.1,641.7 923.1,640 925.7,635.7 931.7,633.1 936.9,630.5 941.2,627.6 941.2,627.6 949,625.3 955.9,623.6 961.9,621 967.9,621 975.7,622.8 981.7,621 986.9,618.4 988.6,614.1 987.8,611.6 992.1,610.7 995.9,612.1 995.9,612.1 996.4,616.7 993.8,621 992.9,626.2 991.2,631.4 991.2,631.4 985.2,629.7 978.3,628.8 972.2,630.5 966.2,632.2 961,635.7 956.7,638.3 955,640.9 957.6,643.4 961,645.2 964.5,647.8 966.2,649 959.3,646 955.9,647.8 958.4,650.3 961,652.9 957.6,652.9 954.1,649.5 950.7,650.3 954.1,654.7 955.9,655.5 951.6,655.5 948.1,650.3 943.8,647.8 941.2,645.2 938.6,646.9 938.6,650.3 940.3,653.8 942.9,658.1 946.4,662.4 949,665.9 951.6,669.3 952.4,671 949,672.8 946.4,676.2 943.8,679.7 949,680.5 954.1,683.1 957.6,684.8 955.9,685.7 950.7,683.1 945.5,681.4 949,685.7 954.1,687.4 961,688.3 966.2,690 968.8,695.2 969.7,700.3 965.3,696.9 961,695.2 955.9,696 954.1,693.4 949,692.6 945.5,692.6 938.6,691.7 931.7,692.6 925.7,694.3 921.4,692.6 917.1,688.3 914.5,684 916.2,682.2 911,680.5 905.9,677.9 902.4,674.5Z M922.2,702.1 926.6,697.8 933.4,695.2 940.3,695.2 947.2,697.8 953.3,696.9 955.9,700.3 954.1,703.8 957.6,707.2 960.2,709 955.9,710.7 950.7,709.8 954.1,715.9 956.7,721 957.6,726.2 952.4,722.8 949,721 948.1,727.9 946.4,730 942.1,723.6 938.6,719.3 935.2,724.5 932.6,722.8 931.7,715.9 930.9,712.4 925.7,709Z M951.6,677.9 955.9,676.2 962.8,679.7 967.9,683.1 971.4,687.4 975.7,690 976.6,691.7 972.2,691.7 967.1,688.3 961,685.7 955.9,683.1 952.4,680.5Z M967.9,635.7 970.5,636.6 970,639.1 967.6,638.3Z M982.9,637.9 986,638.3 985.2,640.3Z M978.3,650.3 984.3,648.6 983.4,652.9 980,652.9Z M993.8,662.4 999.8,658.1 1003.3,660.7 1005.9,665 1000.7,665.9 997.2,664.1Z M996.4,676.2 1000.7,675.3 1002.4,679.7 1000.7,684 998.1,683.1Z M1012.8,689.1 1017.9,688.3 1017.1,691.7 1013.6,691.7Z M1002.4,696 1007.6,693.4 1008.4,694.3 1003.3,697.8Z M1041.2,711.6 1043.8,712.4 1042.9,718.4 1038.6,723.6 1036.9,721.9 1037.8,716.7Z M1020.5,709 1027.4,705.5 1028.3,707.2 1022.2,710.7Z M993.8,707.2 997.2,705.5 998.1,710.7 994.7,711.6Z M980,692.6 983.4,693.4 986,696.9 983.4,696.9Z M986,697.8 990.3,699.5 989.5,701.2Z M908.4,697.8 912.8,696 915.3,700.3 910.2,701.2Z M913.6,705.5 917.1,706.4 917.1,709.8 914.5,709Z M910.2,686.6 912.8,685.7 913.6,690 911,690.9Z M972.2,672.8 974.8,673.6 975.7,676.2 973.1,675.3Z M963.6,665.9 965.3,666.7 964.5,671 963.1,670.2Z M978.3,659 980,659.3 979.3,661Z M990.3,702.1 992.9,701.2 992.1,704.7Z M1002.4,709 1005.9,708.1 1004.5,712.4 1002.1,712.8Z M1011,713.3 1013.6,713.8 1012.8,716.7 1010.7,715.9Z M979.1,717.6 981.7,717.2 980.9,720.2 978.6,719.7Z M987.8,718.4 990.3,717.6 990,720.2Z M969.7,717.6 972.2,717.9 971.4,719.7Z M962.8,717.2 964.5,718.4 963.4,719.7Z M974,699.5 975.7,700.3 974.8,702.9Z M983.4,702.1 985.2,702.4 984.5,704.7Z M978.3,709 980,709.3 979.3,711Z M997.2,721.9 999,722.4 998.3,723.8Z M1002.4,721 1004.1,721.4 1003.4,722.8Z M1025.7,711.6 1027.4,712.1 1026.6,713.4Z M1028.3,713.3 1030,713.8 1029.3,715.2Z M955,671 956.7,671.4 955.9,672.8Z M958.4,671 960.2,671.4 959.3,672.8Z M991.2,677.1 992.9,677.4 992.1,678.8Z M1017.9,694.3 1020,694.8 1019,696.2Z M1015.3,698.6 1017.1,699 1016.2,700.7Z M993.8,715.9 995.9,716.4 995.2,717.9Z M982.6,712.4 984.3,712.8 983.4,714.5Z M1151.2,697.2 1147.6,704.5 1143.9,709.4 1146.3,713.1 1142.7,718 1137.8,720.4 1132.9,725.3 1128,727.7 1121.9,726.5 1118.3,724.1 1117,720.4 1121.9,718 1126.8,715.5 1128,710.6 1135.4,709.4 1141.5,705.8 1147.6,699.7Z M969.3,746.1 974.2,743.6 982.7,746.1 992.5,744.8 1003.5,743.1 1009.6,744.8 1014.5,743.1 1016.2,746.1 1012,749.7 1002.3,752.2 992.5,754.6 987.6,750.9 979.1,752.2 970.5,750.9Z M1027.9,727.7 1030.4,729 1030.4,735.1 1027.9,736.3Z M724,648 728.3,650.2 730,654.5 731.7,658.8 733.4,663.5 731.7,668.6 732.2,672.9 731.3,679 730.9,684.1 730,689.3 729.1,692.3 726.6,691.9 724,690.2 721.4,690.6 720.1,693.2 719.2,695.8 716.2,696.6 714.1,695.8 712.8,694.1 710.6,694.5 709.7,691.9 710.2,686.7 710.6,681.6 711.9,678.1 711,675.5 711.5,671.2 711.9,666.9 710.2,663.4 707.6,661.4 707.6,657.1 711.9,656.6 716.2,654.5 719.7,651Z M649.8,433 645.2,434.4 638.5,438.1 638.5,438.1 631.7,439.9 625.6,441.1 624.4,446.6 623.8,451.5 622.6,455.8 615.9,458.2 608.5,460.7 603.7,463.1 602.4,466.2 608.5,468 600,469.8 608.3,468.1 603.4,467.6 598.3,469.7 591.4,467.1 584.5,466.2 583.6,460.2 575.9,459.3 576.7,469.7 577.6,480 572.4,480 565.5,480 560.3,479.1 555.2,473.1 544.8,474 532.8,475.7 535.3,481.7 533.6,486 537.1,489.5 544.8,492.9 551.7,498.1 556.9,501.6 560.3,504.1 562.1,509.3 564.7,514.5 562.9,517.9 566.4,524 569,528.3 575,530.9 574.1,536.9 571.6,538.6 574.1,545.5 578.4,550.7 575.9,549 572.4,554.1 570.7,561 569.8,570 570.2,560.3 569.8,570 565.9,579.3 561.6,588.8 557.2,590.5 M557.2,590.5 561.6,592.2 561.6,596.6 571,601.7 577.1,604.3 584.8,607.8 591.7,609.5 593.4,606 600.3,609.5 607.2,612.9 612.4,616.4 620.2,619 627.9,618.1 631.4,620.7 M631.4,620.7 629.7,616.4 629.7,608.6 634,602.6 640,599.1 645.2,596.6 650.3,599.1 657.2,600.9 662.4,602.6 667.6,605.2 672.8,607.8 679.7,607.8 684.8,606 687.4,601.7 693.4,597.4 699.5,593.1 M699.5,593.1 701.2,587.1 695.2,585.3 690.9,582.8 689.1,577.6 691.7,572.4 688.3,567.2 686.6,566.4 690.7,564.7 694.1,562.9 694.6,559.5 692.4,556 690.7,551.7 M686.7,474.1 690.4,478.4 694,481.4 700.1,482.6 705,484.5 711.7,486.3 709.3,490.6 706.2,495.5 704.4,501.6 703.2,510 702,514.9 M638.5,438.1 639.1,442.4 642.1,444.8 645.8,445.4 647.6,449.1 651.3,452.1 653.7,454.6 657.4,455.8 659.2,458.8 658.6,462.5 662.3,463.1 665.9,460.1 666.5,464.9 669.6,467.4 673.3,471.1 675.7,473.5 680,472.5 M681.8,460.7 684.9,460.1 685.5,462.5 687.9,466.2 688.5,469.8 686.7,474.1 683.6,474.7 680,472.5 678.8,467.4 680,463.7Z M681.2,446.6 684.2,447.9 686.7,452.7 687.3,456.4 685.5,459.5 684.9,460.1 M649.8,433 655.6,435 659.8,433.2 663.5,432 667.8,431.4 672,432.6 674.8,435.5 679.1,438 681,441.6 679.4,445.4 681.2,446.6 M557.2,590.5 550,588.4 541.4,585.9 534.5,585.9 527.6,582.4 520.7,581.6 513.8,580.7 505.2,576.4 498.3,572.9 491.4,572.1 482.8,571.2 475.9,569.5 472.4,565.2 467.2,563.4 460.3,566 458.6,569.5 450,569.5 444.8,571.2 444,576.4 445.7,582.4 446.6,589.3 444,597.1 443.1,604.8 442.2,615.2 438.8,625.5 434.5,634.1 430.2,642.8 425.9,646.2 421.6,653.1 419,658.3 422.4,662.6 422.4,666 428.4,666.9 426.7,673.8 425,680.7 424.1,687.6 421.6,694.5 419.8,695.9 425.9,696.7 432.8,699.3 437.1,701 442.2,700.2 445.7,698.4 451.7,701 456.9,705.3 460.3,710.5 461.2,715.7 463.8,720.9 466.4,725.2 470.7,728.6 475.9,726.9 479.3,723.4 486.2,721.7 494,720 503.4,721.7 512.1,722.6 519.8,724.3 525.9,722.6 531.9,725.2 536.2,720 541.4,714 548.3,711.4 556,710.5 556.9,706.2 562.1,700.2 568.1,694.1 575,688.1 574.5,690 571.9,686.2 569.3,679.3 569.3,674.1 571.9,669 576.2,662.1 580.5,656.9 584.8,652.6 590,650.9 589.1,648.3 593.4,644.8 600.3,642.2 610.7,639.7 615.9,636.2 622.8,632.8 629.7,629.3 629.7,624.1 631.4,620.7 M444,597.1 446.6,595.3 454.3,595.3 455.2,601.4 460.3,602.2 467.2,604 473.3,602.2 477.6,604 479.3,610 481.9,614.3 478.4,617.8 472.4,621.2 469.8,626.4 469,634.1 468.1,638.4 465.5,641 464.7,647.1 455.2,648.8 456.9,656.6 460.3,663.4 456,667.8 453.4,673.8 453.4,677.2 456,681.6 450.9,684.1 447.4,688.4 445.7,694.5 445.7,698.4 M699.5,593.1 703.8,592.2 708.1,587.1 712.4,583.6 717.6,581.9 722.8,582.8 727.3,584.4 732.2,587.5 737.1,588.7 740.1,594.2 742,600.3 743.8,606.4 744.4,611.3 748.1,613.7 751.7,619.2 755.4,623.5 759.7,623.5 762.1,625.3 766.4,629.6 771.3,634.5 776.2,639.4 781.1,643 785.9,646.7 792,646.1 796.3,646.1 799.4,650.4 805.5,655.2 810.4,657.7 814,660 814,660.1 816.4,664.4 817.6,666.9 822.5,669.3 828,669.3 829.8,673 832.3,677.9 834.7,682.7 836.5,687.6 837.8,692.5 837.2,696.2 833.5,698 834.1,702.3 832.3,705.9 830.4,709.6 831.1,712.6 835.9,712.6 838.4,710.2 840.8,706.5 844.5,702.3 845.1,698.6 844.5,694.9 848.1,692.5 853,690.1 853.6,685.2 852.4,681.5 848.1,677.9 844.5,676 842.6,671.7 843.3,666.9 845.7,662.6 848.1,659.5 850.6,658.3 856.7,660.8 862.8,662.6 866.5,668.1 871.3,669.3 873.2,666.3 872.6,662.6 867.7,657.7 864,654 857.9,651 850.6,647.9 843.3,644.9 835.9,641.8 833.6,640.6 829.9,636.9 832.3,633.3 832.3,630.8 825,630.8 816.5,631.4 810.4,629.6 807.9,625.9 804.2,622.3 800.6,618.6 797.5,613.7 795.7,608.8 793.3,602.7 790.8,597.9 785.9,596 779.8,593 774.3,589.9 773.7,586.9 771.9,582 771.3,575.9 772.5,571.6 772.4,570.5 771.6,567.1 769,562.8 771.6,560.2 776.7,557.6 781,555 783.6,554.6 787.1,555.9 790.5,558 M789.2,537.3 786.2,541.2 788.8,543.8 788.4,547.2 789.2,551.6 792.2,553.3 793.5,555.9 790.5,558 M743.1,530.4 746.6,530.9 750.9,531.7 753.4,529.1 758.6,527.8 762.9,527 767.2,526.6 768.1,529.1 771.6,532.6 774.1,533.9 780.2,534.7 785.3,535.2 789.2,537.3 M789.2,537.3 796.6,536.9 802.6,538.2 805.6,535.2 809.1,532.6 815.5,530.9 820.7,528.3 821.6,529.6 827.1,526.4 M827.1,526.4 828.9,531.1 829.5,533.5 M829.5,533.5 827.7,535.9 822.8,539.6 819,543.8 818.1,548.1 814.7,551.6 814.7,555.9 811.2,557.2 806.9,556.7 803.4,554.1 800.9,556.7 796.6,557.6 790.5,558 M788.7,492.9 785,494.7 783.8,498.4 778.9,502 775.2,503.9 776.5,508.1 777.7,511.2 778.9,514.2 776.5,515.5 774,513 769.1,513 765.5,514.2 760.6,516.1 755.7,517.9 752,519.1 748.4,517.3 744.7,517.3 741.1,520.4 738.6,517.9 737.4,515.5 733.7,515.5 730.1,514.9 M836.8,502.4 836.2,507.9 830.1,509.7 830.7,515.2 828.3,518.8 828.9,523.7 827.1,526.4 M833.3,487.3 832.6,492 834.4,496.9 836.2,501.7 836.8,502.4 M788.7,492.8 795.9,492.6 802,490.8 805.1,484.7 810.6,484.7 815.5,486.5 822.8,487.1 827.7,485.9 832.6,486.5 833.3,487.3 M801,442.1 797.2,445.3 795.4,441.6 792.9,443.4 787.4,447.1 781.3,450.8 774,455 767.9,458.7 765.5,459.3 766.1,461.7 769.1,466.6 771,471.5 774,476.4 778.9,481.3 783.8,485.6 787.4,489.8 788.7,492.9 M856.5,467.8 852.3,472 849.8,473.9 847.4,478.1 842.5,483 838.8,484.2 834,485.5 833.3,487.3 M856.5,467.8 854.1,463.5 851.1,460.4 847.4,458.6 843.7,456.8 842.5,458.6 840.1,457.4 839.5,453.7 835.2,454.9 830.3,452.5 829.1,453.7 826.6,457.4 825.4,458 821.7,452.5 820.5,448.8 815.6,448.2 810.8,446.4 805.9,444 804.7,442.1 801.6,444 801,442.1 M720.7,363.2 721.2,367.1 721.8,372 721.2,375.6 723,380.5 720.6,383.6 718.1,386.6 718.1,390.3 715.1,392.1 713.3,392.7 712,388.5 708.4,387.2 702.3,387.2 699.8,390.3 699.6,394.2 697.4,392.7 691.3,392.1 686.4,392.7 680.3,394.6 675.4,398.2 672.4,401.3 671.1,397 669.9,398.8 669.3,403.7 667.5,408.6 666.3,413.5 663.2,417.8 659.5,420.8 657.1,424.5 655.9,428.1 656.8,426.5 653.1,429.5 653.7,432 649.8,433 M699.6,394.2 700.4,401.3 698.6,406.2 694.9,409.8 694.3,412.3 698,413.5 698.6,417.2 694.9,420.8 693.7,423.3 688.8,425.1 684.6,426.3 683.3,429.4 685.8,433 685.8,437.9 682.7,442.8 680.3,446.5 M790.5,380.9 789.9,386.4 790.5,392.5 791.1,397.4 789.3,402.3 790.5,405.9 794.8,409 795.4,413.3 796.6,418.1 797.2,425.5 799.1,430.4 802.1,435.2 801.6,439.1 801,442.1 M735.8,362.8 736.5,368.3 738.9,372 743.8,373.2 749.3,374.4 748.7,378.1 747.4,380.5 752.3,381.1 757.2,378.7 763.3,375 769.4,372 775.3,369.9 775.9,367.5 778.9,369.3 780.8,372.4 778.3,375.4 782,377.2 786.3,379.7 790.5,380.9 M701.9,515.9 706.2,515.5 711.4,515.1 714.8,514.2 718.3,513.8 722.6,514.2 726.9,515.1 729.5,516.8 730.8,519.8 729.9,522.8 728.6,525.9 730.3,527.2 733.8,527.6 736.4,529.7 739,530.2 741.6,528.9 742.8,529.7 742,532.8 742.8,536.2 740.7,536.6 738.1,537.9 737.2,539.7 738.5,542.2 737.2,543.1 734.7,540.9 732.1,542.2 729.5,540.9 727.8,538.8 726,540.1 725.2,544 723,547.4 722.2,550.9 720.9,552.2 719.6,548.3 717,545.7 714.8,543.1 713.5,539.7 711.4,541.4 708.8,544 707.1,547.4 704.5,549.6 700.2,549.1 695.9,550.4 693.3,549.1 691.6,546.6 690.7,543.1 690.3,539.2 687.2,538.8 684.7,539.2 681.6,540.9 680.8,543.1 678.6,544 679.5,540.5 680.3,537.5 683.8,534.5 685.5,529.3 688.1,525.9 692.4,522.8 694.1,520.7 693.3,518.5 695.9,517.2 697.6,518.1 699.7,516.8Z M910.9,469 907.2,469.6 902.3,466.5 897.4,464.7 892.6,464.7 887.7,466.5 884,468.4 879.1,467.8 875.5,470.8 873,472 870,469.6 866.9,467.8 864.5,465.9 861.4,469 858.4,469 856.5,467.8 M910.9,469 907.2,473.3 905.4,480.6 904.8,485.1 909.3,488.1 915.3,491 M915.3,491 912.8,495.9 908.4,501 905.9,506.2 903.3,513.1 901.6,518.3 900.7,523.4 898.1,528.6 893.8,532.1 888.6,534.7 887.8,535.5 M887.8,535.5 881.7,536.4 874.8,538.1 869.7,540.7 867.1,543.3 M829.5,533.4 832.5,535.3 837.4,538.9 842.3,542.6 847.2,545 853.3,546.3 859.4,545.6 864.2,543.8 866.7,543.2 M904.8,485.2 900.7,486.4 895.5,482.9 890.3,483.8 883.4,486.4 878.3,490.7 873.1,494.1 866.2,496.7 861.9,499.3 859.3,503.6 852.4,505.3 845.5,505.3 838.6,501 M790.5,380.9 796.6,377.9 805.2,374.2 811.3,371.7 814.9,368.1 818.6,365.6 825.9,362 833.3,359.5 836.9,358.3 839.4,362 841.8,365.6 847.9,366.3 851,366.3 856.5,363.2 869.9,362.6 882.1,361.4 891.3,359.5 896.2,360.1 899.8,362.5 903.5,366.2 905.9,373.5 909,379.6 911.4,385.7 912.6,391.2 908.4,395.5 905.3,401 909.6,402.8 912,406.5 912.6,410 912.7,411 914.5,417.1 917,422 919.4,426.3 921.9,429.3 923.1,436 919.4,439.1 916.4,442.1 914.5,447.6 912.1,453.7 909,458.6 909.7,462.3 910.9,467.2 910.9,469 M866.7,543.2 867.9,547.5 869.7,551.7 870.4,554.8 875.2,556.6 872.8,559.1 871,562.1 869.7,564 866.7,561.5 863,560.9 858.1,560.3 853.3,561.5 848.4,560.3 843.5,560.9 838.6,559.7 833.7,561.5 830.1,565.2 826.4,562.7 823.3,562.1 822.1,566.4 823.3,570.1 826.4,573.7 828.8,577.4 830.1,581.1 833.7,584.7 838,588.4 842.3,592 846.5,596.3 850.2,600.6 853.3,604.9 854.5,607.3 858.1,608.5 863,611.6 867.9,614.6 867.9,615.2 863,612.8 858.1,609.7 853.3,607.9 850.8,607.3 848.4,603 844.7,599.4 839.8,597.5 834.9,596.3 828.8,596.9 825.2,593.3 820.3,590.2 816.6,586.5 814.8,582.3 813,577.4 810.5,573.7 809.3,568.8 807.5,565.8 806.3,566.4 804.4,567 802.6,563.3 800.1,562.1 798.3,566.4 795.9,571.9 793.4,570.1 791,565.2 789.2,560.3 790.5,558 M915.3,491 921.4,489 928.3,489.8 936.9,489 942.1,488.1 947.2,490.7 954.1,486.4 961,482.9 963.6,478.6 967.9,476 973.1,477.8 976.6,482.9 981.7,488.1 986.9,493.3 992.1,498.4 995.5,504.5 997.2,511.4 998.1,517.4 1000.7,523.4 1004.1,527.8 1011,528.6 1016.2,526 1021.4,525.2 1024,529.5 1024.8,534.7 1019.7,539 1016.2,544.1 1014.5,549.3 1015.3,556.2 1015.3,561.4 1016.2,566.6 1012.8,571.7 1010.2,576.9 1009.3,583.8 1006.7,589 1010.2,594.1 1014.5,598.4 1007.6,602.1 1000.7,604.7 993.8,607.2 995.9,612.1 M926.6,571.7 924,576.9 924.8,582.1 930,587.2 933.4,590.7 931.7,597.6 928.3,604.5 929.1,610 931.7,613.3 936.9,617.6 939.5,622.8 941.2,627.6 M926.6,571.7 924,566.6 924.8,562.2 919.7,564 916.2,561.4 911,559.7 905.9,557.9 906.7,553.6 900.7,551 895.5,545.9 893.8,541.6 887.8,535.5 M1015.3,561.4 1009.3,560.5 1004.1,558.8 998.1,558.8 992.1,559.7 985.2,562.2 978.3,567.4 973.1,571.7 967.9,574.3 957.6,574.3 947.2,576 936.9,576 930.9,573.4 930,570.9 926.6,571.7 M679.3,437.1 681.4,439.7 682.4,441.7 684.5,444.8 682.9,447.2 680.9,446.9 679.3,445.9 679.8,443.3 680.9,441.2 679.8,439.1Z M649.8,433.2 652.9,432.7 656.6,433.4 659.1,434 657.6,435.3 655.5,435.5 652.4,434.5Z M765.7,81.8 770.6,80.6 777.9,80 773,83.1 766.9,84.3Z M759.6,91 761.4,87.3 763.3,85.5 762.6,88.5 760.8,91.6Z M821.1,26.3 825.9,23.8 829.6,20.8 828.4,24.4 824.7,27.5Z M715.7,182.8 718.8,182.8 719.4,185.3 716.9,186.5Z M865.1,135.8 868.1,135.2 868.8,137.6 866.3,138.2Z M841.9,176.1 844.3,177.3 843.7,180.4 841.9,179.1Z"/>
<g fill="#0e1c0e"><circle cx="751.7" cy="100.5" r="0.95"/><circle cx="769.4" cy="98.9" r="0.95"/><circle cx="768.1" cy="103.2" r="0.95"/><circle cx="766.3" cy="107.5" r="0.95"/><circle cx="774.2" cy="96.5" r="0.95"/><circle cx="771.8" cy="99.5" r="0.95"/><circle cx="757.2" cy="113.9" r="0.95"/><circle cx="760.8" cy="115.4" r="0.95"/><circle cx="759.6" cy="117.9" r="0.95"/><circle cx="758.4" cy="122.7" r="0.95"/><circle cx="760.8" cy="120.3" r="0.95"/><circle cx="756.5" cy="127" r="0.95"/><circle cx="755.9" cy="131.9" r="0.95"/><circle cx="752.3" cy="136.2" r="0.95"/><circle cx="743.7" cy="156.3" r="0.95"/><circle cx="833.3" cy="16.5" r="0.95"/><circle cx="836.9" cy="14" r="0.95"/><circle cx="846.9" cy="12.8" r="0.95"/><circle cx="846.9" cy="19.5" r="0.95"/><circle cx="806.4" cy="37.9" r="0.95"/><circle cx="809.5" cy="36.4" r="0.95"/><circle cx="786.9" cy="66.5" r="0.95"/><circle cx="772.2" cy="97.7" r="0.95"/><circle cx="769.2" cy="98.9" r="0.95"/><circle cx="702.9" cy="195.9" r="0.95"/><circle cx="684.9" cy="218.8" r="0.95"/><circle cx="681.5" cy="231.7" r="0.95"/><circle cx="680.9" cy="268.3" r="0.95"/><circle cx="680.8" cy="268.6" r="0.95"/><circle cx="718.5" cy="357.2" r="0.95"/><circle cx="715.9" cy="361.5" r="0.95"/><circle cx="716.3" cy="361.6" r="0.95"/><circle cx="716.9" cy="366.5" r="0.95"/><circle cx="720" cy="370.1" r="0.95"/><circle cx="710" cy="376.9" r="0.95"/><circle cx="717.2" cy="382" r="0.95"/><circle cx="696.8" cy="388.5" r="0.95"/><circle cx="694.3" cy="389.7" r="0.95"/><circle cx="681.5" cy="390.9" r="0.95"/><circle cx="676.6" cy="392.1" r="0.95"/><circle cx="750.5" cy="371.4" r="0.95"/><circle cx="849.6" cy="233.7" r="0.95"/><circle cx="850.8" cy="237.4" r="0.95"/><circle cx="853.3" cy="239.2" r="0.95"/><circle cx="857.5" cy="239.2" r="0.95"/><circle cx="859.4" cy="241.1" r="0.95"/><circle cx="861.2" cy="239.8" r="0.95"/><circle cx="866.7" cy="246.5" r="0.95"/><circle cx="838.6" cy="182.4" r="0.95"/><circle cx="843.5" cy="180.6" r="0.95"/><circle cx="889.3" cy="249" r="0.95"/><circle cx="846.8" cy="129.7" r="0.95"/><circle cx="848.6" cy="126" r="0.95"/><circle cx="854.7" cy="124.2" r="0.95"/><circle cx="858.4" cy="124.2" r="0.95"/><circle cx="837.6" cy="169.4" r="0.95"/><circle cx="838.8" cy="182.8" r="0.95"/><circle cx="549.1" cy="504.1" r="0.95"/><circle cx="561.2" cy="513.1" r="0.95"/><circle cx="569.8" cy="530.9" r="0.95"/><circle cx="733.4" cy="610.2" r="0.95"/><circle cx="740.3" cy="615.5" r="0.95"/><circle cx="750.3" cy="624.5" r="0.95"/><circle cx="774" cy="591" r="0.95"/><circle cx="774.5" cy="633.4" r="0.95"/><circle cx="798.6" cy="657.2" r="0.95"/><circle cx="822.2" cy="625.7" r="0.95"/><circle cx="834.3" cy="619.8" r="0.95"/><circle cx="709.3" cy="650.3" r="0.95"/><circle cx="707.6" cy="653.8" r="0.95"/><circle cx="798.3" cy="657.1" r="0.95"/><circle cx="769.7" cy="739.9" r="0.95"/><circle cx="785.2" cy="758.7" r="0.95"/><circle cx="474.7" cy="732.9" r="0.95"/><circle cx="512.9" cy="751.9" r="0.95"/><circle cx="481.6" cy="399" r="0.95"/><circle cx="809.1" cy="753.8" r="0.95"/><circle cx="811.7" cy="756.4" r="0.95"/><circle cx="813.4" cy="757.6" r="0.95"/><circle cx="816.9" cy="701.6" r="0.95"/></g>
</g>
<text x="22.4" y="146.7" font-size="16" font-weight="bold" textLength="299" lengthAdjust="spacingAndGlyphs">Testing rate per 100 000 population</text>
<text x="22.4" y="166.9" font-size="16" font-weight="bold" textLength="70.7" lengthAdjust="spacingAndGlyphs">week 03</text>
<rect x="22.4" y="180.5" width="38.6" height="19.6" fill="#e8e8be" stroke="#7a7a6a" stroke-width="1"/>
<text x="68" y="195.5" font-size="13.8" class="a" textLength="29.8" lengthAdjust="spacingAndGlyphs">≤300</text>
<rect x="22.4" y="207" width="38.6" height="19.6" fill="#b3d26e" stroke="#7a7a6a" stroke-width="1"/>
<text x="68" y="221.5" font-size="13.8" class="a" textLength="80.2" lengthAdjust="spacingAndGlyphs">300.1 - 999.9</text>
<rect x="22.4" y="233.2" width="38.6" height="19.6" fill="#65b32e" stroke="#7a7a6a" stroke-width="1"/>
<text x="68" y="247.7" font-size="13.8" class="a" textLength="95.2" lengthAdjust="spacingAndGlyphs">1000.0 - 2499.9</text>
<rect x="22.4" y="259.5" width="38.6" height="19.6" fill="#1e8038" stroke="#7a7a6a" stroke-width="1"/>
<text x="68" y="273.90000000000003" font-size="13.8" class="a" textLength="95.7" lengthAdjust="spacingAndGlyphs">2500.0 - 4999.9</text>
<rect x="22.4" y="285.7" width="38.6" height="19.6" fill="#0a4526" stroke="#7a7a6a" stroke-width="1"/>
<text x="68" y="300.1" font-size="13.8" class="a" textLength="49.1" lengthAdjust="spacingAndGlyphs">≥5000.0</text>
<rect x="22.4" y="311.6" width="38.6" height="19.6" fill="#868686" stroke="#6a6a6a" stroke-width="1"/>
<text x="68" y="326.40000000000003" font-size="13.8" class="a" textLength="153.8" lengthAdjust="spacingAndGlyphs">Insufficient data available</text>
<rect x="22.4" y="338" width="38.6" height="19.6" fill="#e4e4e4" stroke="#b9b9b9" stroke-width="1"/>
<text x="68" y="352.70000000000005" font-size="13.8" class="a" textLength="75" lengthAdjust="spacingAndGlyphs">Not included</text>
<text x="20.3" y="412.6" font-size="16" textLength="135.7" lengthAdjust="spacingAndGlyphs">Regions not visible</text>
<text x="20.3" y="431.9" font-size="16" textLength="170" lengthAdjust="spacingAndGlyphs">in the main map extent</text>
<rect x="19.8" y="445.5" width="39.6" height="18.8" fill="#1e8038" stroke="#3c4a2c" stroke-width="1"/>
<text x="68.4" y="460" font-size="13" textLength="39.7" lengthAdjust="spacingAndGlyphs">Azores</text>
<rect x="19.8" y="471.8" width="39.6" height="18.8" fill="#b3d26e" stroke="#3c4a2c" stroke-width="1"/>
<rect x="19.8" y="498.2" width="39.6" height="18.8" fill="#0a4526" stroke="#3c4a2c" stroke-width="1"/>
<text x="68.4" y="512.6" font-size="13" textLength="61.2" lengthAdjust="spacingAndGlyphs">Greenland</text>
<rect x="19.8" y="524.2" width="39.6" height="18.8" fill="#1e8038" stroke="#3c4a2c" stroke-width="1"/>
<text x="68.4" y="538.4" font-size="13" textLength="46" lengthAdjust="spacingAndGlyphs">Madeira</text>
<rect x="19.8" y="550.4" width="39.6" height="18.8" fill="#65b32e" stroke="#3c4a2c" stroke-width="1"/>
<text x="68.4" y="564.3" font-size="13" textLength="48.1" lengthAdjust="spacingAndGlyphs">Mayotte</text>
<text x="68.4" y="478.4" font-size="10.5" textLength="57.6" lengthAdjust="spacingAndGlyphs">Guadeloupe</text>
<text x="68.4" y="491.5" font-size="10.5" textLength="79.7" lengthAdjust="spacingAndGlyphs">and Saint Martin</text>
<rect x="170.4" y="446.5" width="39.6" height="18.6" fill="#65b32e" stroke="#3c4a2c" stroke-width="1"/>
<text x="219" y="461.9" font-size="13" textLength="89" lengthAdjust="spacingAndGlyphs">Canary Islands</text>
<rect x="170.4" y="472.2" width="39.6" height="18.6" fill="#1e8038" stroke="#3c4a2c" stroke-width="1"/>
<text x="219" y="486.9" font-size="13" textLength="45.2" lengthAdjust="spacingAndGlyphs">Guyane</text>
<rect x="170.4" y="498.2" width="39.6" height="18.6" fill="#65b32e" stroke="#3c4a2c" stroke-width="1"/>
<text x="219" y="513.6" font-size="13" textLength="67.2" lengthAdjust="spacingAndGlyphs">La Reunion</text>
<rect x="170.4" y="524.2" width="39.6" height="18.6" fill="#b3d26e" stroke="#3c4a2c" stroke-width="1"/>
<text x="219" y="539.5" font-size="13" textLength="63.8" lengthAdjust="spacingAndGlyphs">Martinique</text>
<text x="24.1" y="610" font-size="16" textLength="147" lengthAdjust="spacingAndGlyphs">Countries not visible</text>
<text x="24.1" y="629.8" font-size="16" textLength="170" lengthAdjust="spacingAndGlyphs">in the main map extent</text>
<rect x="23.6" y="643.2" width="40.2" height="20.2" fill="#1e8038" stroke="#3c4a2c" stroke-width="1"/>
<text x="72.8" y="657.2" font-size="13" textLength="32" lengthAdjust="spacingAndGlyphs">Malta</text>
<rect x="170.3" y="644.6" width="39.8" height="19" fill="#868686" stroke="#555" stroke-width="1"/>
<text x="219.3" y="659.2" font-size="13" textLength="79" lengthAdjust="spacingAndGlyphs">Liechtenstein</text>
<text x="8.4" y="802.5" font-size="9.33" textLength="586" lengthAdjust="spacingAndGlyphs">Administrative boundaries: © EuroGeographics © UN–FAO © Turkstat.©Kartverket©Instituto Nacional de Estatística - Statistics Portugal.</text>
<text x="8.4" y="814.3" font-size="9.33" textLength="675.6" lengthAdjust="spacingAndGlyphs">The boundaries and names shown on this map do not imply official endorsement or acceptance by the European Union. ECDC. Map produced on: 28 Jan 2021</text>
<g id="logo">
<path fill="#a5cd77" d="M35.5,11.4 38.6,14.5 45.9,13.4 54.1,10.3 63.4,9.8 68.6,7.8 75.8,9.3 81.0,13.4 85.1,20.7 87.2,26.9 83.1,30.0 86.2,35.2 84.1,41.4 77.9,44.5 75.8,49.6 68.6,48.6 64.5,52.7 59.3,49.6 52.1,51.7 45.9,45.5 39.6,48.6 33.4,50.7 28.3,48.6 28.8,42.4 35.5,40.3 37.6,33.1 40.7,27.9 38.6,22.8 45.9,20.7 50.0,15.5 40.7,17.6 36.5,15.5Z"/>
<path fill="#fff" d="M47,16 l3,-1 2,3 -3,2z M52.5,36 l5,-1.5 1,2 -5,1.5z M40,46.5 l4,-1.5 3,2 -4,1z M60,21.5 l3,-1 1,2 -3,1z"/>
<path d="M29.3,21.2 Q48.4,7.8 77.9,12.9" fill="none" stroke="#1b3a6b" stroke-width="2.1" stroke-linecap="round"/>
<path d="M24.7,36.7 Q54.4,21.4 91.4,30" fill="none" stroke="#1b3a6b" stroke-width="2.4" stroke-linecap="round"/>
<path d="M25.2,48.6 Q64.8,49.2 90.8,41.4" fill="none" stroke="#1b3a6b" stroke-width="2.2" stroke-linecap="round"/>
<path d="M44.8,6.7 Q25.8,29.7 41.7,57.9" fill="none" stroke="#1b3a6b" stroke-width="1.8" stroke-linecap="round"/>
<path d="M52.1,6.2 Q55.2,35.1 58.3,47.6" fill="none" stroke="#1b3a6b" stroke-width="1.8" stroke-linecap="round"/>
<path d="M58.3,4.7 Q81.5,25.6 73.8,47.6" fill="none" stroke="#1b3a6b" stroke-width="1.8" stroke-linecap="round"/>
<path d="M69.6,8.3 Q98.9,29.3 85.7,49.1" fill="none" stroke="#1b3a6b" stroke-width="1.8" stroke-linecap="round"/>
<path d="M26.2,27.4 Q20.3,42.8 34,60.5" fill="none" stroke="#1b3a6b" stroke-width="1.5" stroke-linecap="round"/>
<text x="44.6" y="77.2" font-size="45.5" style="font-family:'Liberation Serif',serif" stroke-width="0.8" stroke-linejoin="round" textLength="84.5" lengthAdjust="spacingAndGlyphs"><tspan fill="#1b3a6b" stroke="#1b3a6b">e</tspan><tspan fill="#65b32e" stroke="#65b32e">cd</tspan><tspan fill="#1b3a6b" stroke="#1b3a6b">c</tspan></text>
<path d="M105.2,50 C105.4,46 102.5,43.5 104.5,40.5" fill="none" stroke="#65b32e" stroke-width="3" stroke-linecap="round"/>
<ellipse cx="106.6" cy="39" rx="5.3" ry="3" fill="#65b32e" transform="rotate(-10 106.6 39)"/>
<rect x="45.2" y="84.8" width="21.2" height="14.2" fill="#1d3f9a"/>
<circle cx="55.80" cy="87.60" r="0.65" fill="#f6d21b"/>
<circle cx="57.95" cy="88.18" r="0.65" fill="#f6d21b"/>
<circle cx="59.52" cy="89.75" r="0.65" fill="#f6d21b"/>
<circle cx="60.10" cy="91.90" r="0.65" fill="#f6d21b"/>
<circle cx="59.52" cy="94.05" r="0.65" fill="#f6d21b"/>
<circle cx="57.95" cy="95.62" r="0.65" fill="#f6d21b"/>
<circle cx="55.80" cy="96.20" r="0.65" fill="#f6d21b"/>
<circle cx="53.65" cy="95.62" r="0.65" fill="#f6d21b"/>
<circle cx="52.08" cy="94.05" r="0.65" fill="#f6d21b"/>
<circle cx="51.50" cy="91.90" r="0.65" fill="#f6d21b"/>
<circle cx="52.08" cy="89.75" r="0.65" fill="#f6d21b"/>
<circle cx="53.65" cy="88.18" r="0.65" fill="#f6d21b"/>
<text x="70.7" y="89.3" font-size="5.2" class="a" fill="#1b3a6b" textLength="58.6" lengthAdjust="spacingAndGlyphs">EUROPEAN CENTRE FOR</text>
<text x="70.7" y="94.2" font-size="5.2" class="a" fill="#1b3a6b" textLength="51.4" lengthAdjust="spacingAndGlyphs">DISEASE PREVENTION</text>
<text x="70.7" y="99.1" font-size="5.2" class="a" fill="#1b3a6b" textLength="37.5" lengthAdjust="spacingAndGlyphs">AND CONTROL</text>
</g>
</svg>
</body></html>
